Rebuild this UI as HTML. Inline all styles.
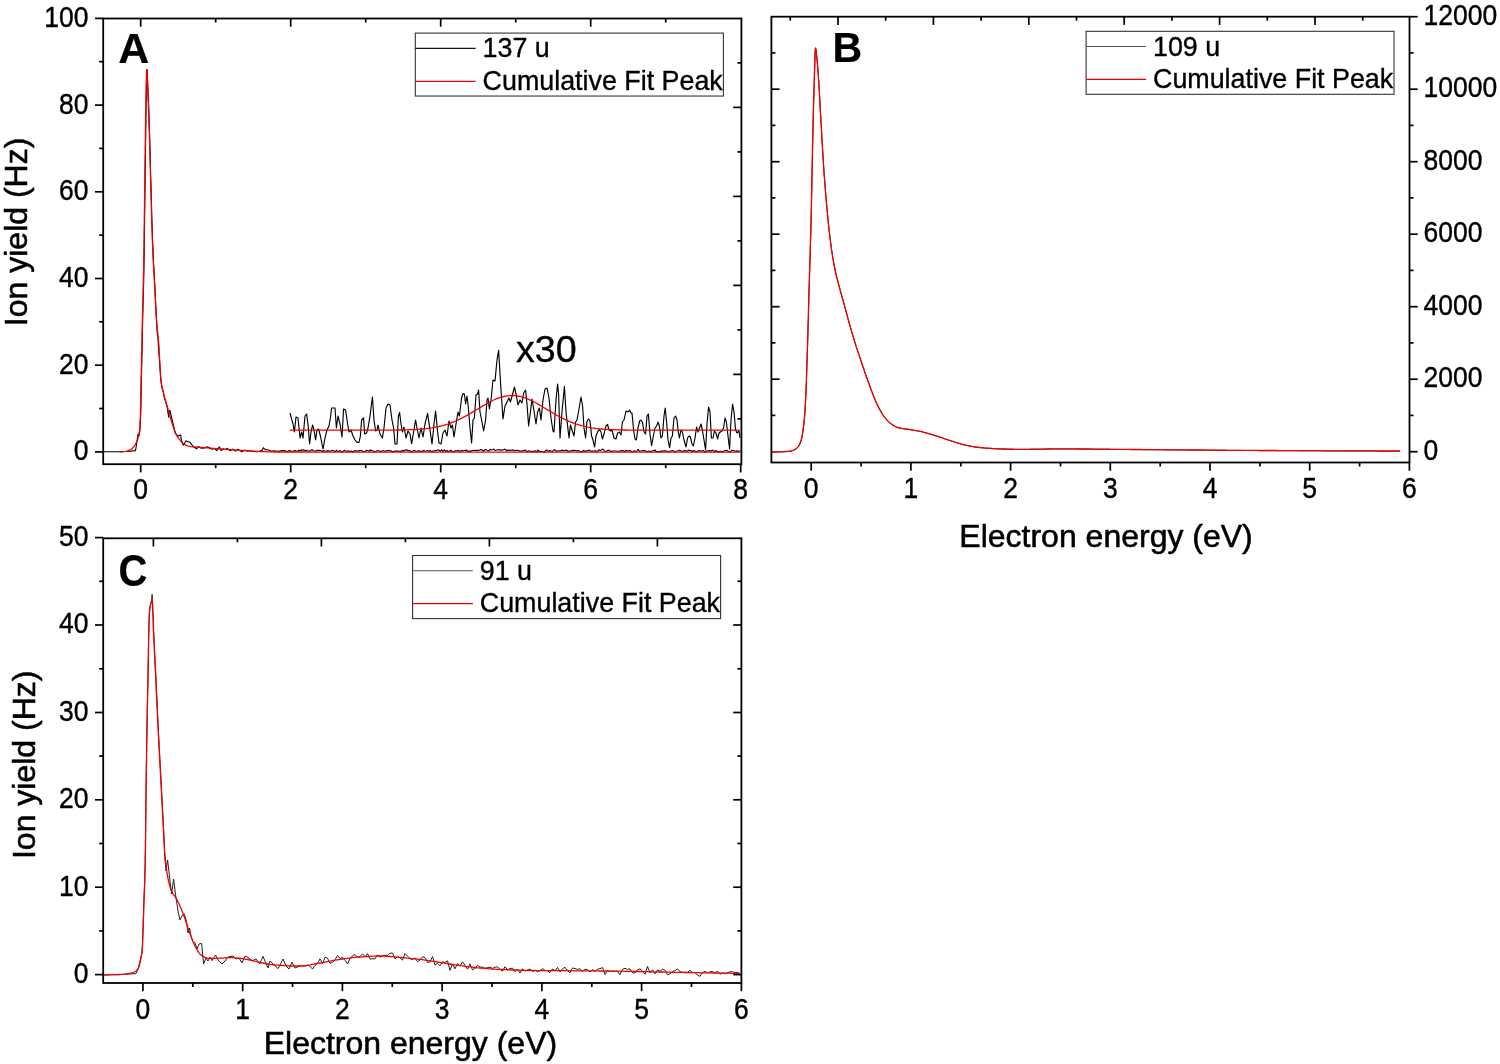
<!DOCTYPE html>
<html lang="en"><head><meta charset="utf-8"><title>Ion yield vs electron energy</title>
<style>
html,body{margin:0;padding:0;background:#fff;}
html,body{width:1500px;height:1064px;overflow:hidden;}
svg{display:block;font-family:'Liberation Sans', Arial, Helvetica, sans-serif;fill:#000;will-change:transform;}
text{stroke:#000;stroke-width:0.35px;stroke-linejoin:round;}
text.lab{stroke-width:0.55px;}
text.b{stroke-width:0.2px;}
</style></head>
<body>
<svg width="1500" height="1064" viewBox="0 0 1500 1064">
<rect x="0" y="0" width="1500" height="1064" fill="#fff"/>
<g id="panelA">
<path d="M103.4,451.7 L120.0,451.6 L130.0,451.2 L135.5,450.6 L136.6,444.0 L138.0,434.0 L139.0,435.7 L139.6,432.7 L139.9,429.7 L140.1,426.7 L140.3,423.7 L140.4,420.6 L140.6,417.6 L140.7,414.6 L140.8,411.5 L140.8,408.5 L140.9,405.4 L141.0,402.4 L141.0,399.4 L141.1,396.3 L141.2,393.3 L141.2,390.2 L141.3,387.2 L141.3,384.2 L141.4,381.1 L141.4,378.1 L141.5,375.0 L141.6,372.0 L141.6,369.0 L141.7,365.9 L141.8,362.9 L141.8,359.9 L141.9,356.8 L142.0,353.8 L142.0,350.7 L142.1,347.7 L142.2,344.7 L142.2,341.6 L142.3,338.6 L142.3,335.5 L142.4,332.5 L142.5,329.5 L142.5,326.4 L142.6,323.4 L142.7,320.4 L142.7,317.3 L142.8,314.3 L142.9,311.2 L143.0,308.2 L143.0,305.2 L143.1,302.1 L143.2,299.1 L143.3,296.0 L143.4,293.0 L143.4,290.0 L143.5,286.9 L143.6,283.9 L143.7,280.9 L143.7,277.8 L143.8,274.8 L143.9,271.7 L143.9,268.7 L144.0,265.7 L144.0,262.6 L144.1,259.6 L144.1,256.6 L144.2,253.5 L144.2,250.5 L144.3,247.4 L144.3,244.4 L144.3,241.4 L144.4,238.3 L144.4,235.3 L144.4,232.2 L144.5,229.2 L144.5,226.2 L144.6,223.1 L144.6,220.1 L144.6,217.0 L144.7,214.0 L144.7,211.0 L144.8,207.9 L144.8,204.9 L144.8,201.9 L144.9,198.8 L144.9,195.8 L144.9,192.7 L145.0,189.7 L145.0,186.7 L145.1,183.6 L145.1,180.6 L145.1,177.5 L145.2,174.5 L145.2,171.5 L145.3,168.4 L145.3,165.4 L145.3,162.3 L145.4,159.3 L145.4,156.3 L145.5,153.2 L145.5,150.2 L145.5,147.2 L145.6,144.1 L145.6,141.1 L145.7,138.0 L145.7,135.0 L145.7,132.0 L145.8,128.9 L145.8,125.9 L145.9,122.8 L145.9,119.8 L145.9,116.8 L146.0,113.7 L146.0,110.7 L146.1,107.6 L146.1,104.6 L146.2,101.6 L146.2,98.5 L146.3,95.5 L146.4,92.2 L146.4,88.5 L146.5,84.5 L146.6,80.4 L146.7,76.7 L146.7,73.5 L146.8,71.0 L146.9,69.6 L147.0,69.5 L147.2,70.7 L147.2,73.0 L147.4,76.1 L147.6,79.7 L147.7,83.7 L147.9,87.7 L148.1,91.6 L148.2,94.9 L148.3,98.0 L148.4,101.0 L148.6,104.0 L148.7,107.1 L148.8,110.1 L148.9,113.2 L149.0,116.2 L149.1,119.2 L149.2,122.3 L149.3,125.3 L149.4,128.3 L149.5,131.4 L149.6,134.4 L149.7,137.5 L149.8,140.5 L149.8,143.5 L149.9,146.6 L150.0,149.6 L150.1,152.6 L150.2,155.7 L150.2,158.7 L150.3,161.8 L150.4,164.8 L150.5,167.8 L150.6,170.9 L150.6,173.9 L150.7,176.9 L150.8,180.0 L150.9,183.0 L151.0,186.1 L151.1,189.1 L151.1,192.1 L151.2,195.2 L151.3,198.2 L151.4,201.3 L151.5,204.3 L151.6,207.3 L151.6,210.4 L151.7,213.4 L151.8,216.4 L151.9,219.5 L152.0,222.5 L152.1,225.6 L152.2,228.6 L152.3,231.6 L152.4,234.7 L152.5,237.7 L152.6,240.7 L152.7,243.8 L152.9,246.8 L153.0,249.9 L153.1,252.9 L153.2,255.9 L153.4,259.0 L153.5,262.0 L153.7,265.0 L153.9,268.1 L154.0,271.1 L154.2,274.1 L154.4,277.2 L154.5,280.2 L154.7,283.2 L154.9,286.3 L155.0,289.3 L155.2,292.3 L155.3,295.4 L155.5,298.4 L155.6,301.5 L155.7,304.5 L155.9,307.5 L156.1,310.6 L156.2,313.6 L156.4,316.6 L156.6,319.7 L157.2,333.0 L158.0,337.0 L158.3,345.0 L159.6,362.0 L160.6,378.0 L161.8,387.0 L163.2,392.0 L164.6,399.0 L165.8,402.0 L167.1,407.0 L168.7,417.3 L169.7,410.3 L170.0,410.7 L175.3,433.3 L178.0,436.0 L180.7,434.9 L181.3,440.0 L183.3,445.3 L186.0,440.7 L190.0,442.4 L193.3,446.7 L196.7,448.7 L198.7,446.7 L201.3,448.3 L204.7,448.0 L206.7,446.9 L208.7,447.3 L210.7,448.8 L212.7,449.3 L214.7,448.3 L216.7,450.7 L219.3,446.9 L221.3,450.7 L223.3,448.7 L225.3,449.6 L227.3,448.3 L230.0,450.7 L232.7,449.1 L235.3,451.1 L238.0,449.3 L240.0,450.7 L242.0,451.7 L244.7,450.0 L247.3,451.2 L250.0,450.7 L252.7,451.5 L256.7,451.7 L259.3,451.2 L262.0,450.4 L263.3,447.7 L265.3,449.6 L268.7,450.0 L271.3,451.3 L274.0,450.7 L276.7,451.2 L278.0,451.0 L279.3,451.2 L280.6,450.8 L281.9,450.5 L283.2,450.7 L284.5,450.4 L285.8,451.0 L287.1,451.8 L288.4,450.7 L289.7,450.6 L291.0,451.3 L292.3,451.2 L293.6,451.1 L294.9,450.4 L296.2,451.0 L297.5,451.4 L298.8,450.2 L300.1,450.7 L301.4,449.9 L302.7,450.2 L304.0,449.9 L305.3,450.9 L306.6,450.2 L307.9,451.2 L309.2,451.1 L310.5,450.9 L311.8,449.5 L313.1,450.7 L314.4,451.0 L315.7,451.1 L317.0,450.1 L318.3,450.7 L319.6,450.4 L320.9,450.5 L322.2,451.6 L323.5,450.5 L324.8,451.0 L326.1,451.5 L327.4,450.6 L328.7,450.9 L330.0,451.1 L331.3,451.0 L332.6,450.3 L333.9,451.0 L335.2,451.8 L336.5,450.1 L337.8,451.5 L339.1,451.1 L340.4,450.6 L341.7,452.2 L343.0,451.5 L344.3,450.3 L345.6,451.0 L346.9,451.3 L348.2,450.9 L349.5,451.4 L350.8,451.0 L352.1,451.4 L353.4,451.9 L354.7,450.6 L356.0,451.1 L357.3,450.7 L358.6,451.1 L359.9,450.3 L361.2,450.7 L362.5,450.9 L363.8,451.5 L365.1,451.7 L366.4,450.2 L367.7,450.5 L369.0,451.4 L370.3,449.8 L371.6,450.7 L372.9,450.9 L374.2,451.8 L375.5,451.4 L376.8,450.8 L378.1,450.8 L379.4,450.8 L380.7,451.9 L382.0,450.7 L383.3,450.8 L384.6,451.2 L385.9,450.9 L387.2,450.9 L388.5,450.3 L389.8,451.0 L391.1,450.7 L392.4,451.7 L393.7,451.4 L395.0,451.0 L396.3,451.4 L397.6,450.8 L398.9,451.6 L400.2,451.0 L401.5,451.4 L402.8,450.2 L404.1,451.2 L405.4,450.0 L406.7,449.8 L408.0,450.8 L409.3,450.5 L410.6,451.1 L411.9,452.3 L413.2,450.5 L414.5,450.6 L415.8,451.1 L417.1,451.3 L418.4,450.9 L419.7,450.9 L421.0,451.4 L422.3,451.3 L423.6,450.4 L424.9,451.0 L426.2,451.0 L427.5,450.4 L428.8,451.2 L430.1,450.5 L431.4,451.6 L432.7,451.1 L434.0,451.1 L435.3,450.6 L436.6,450.9 L437.9,449.8 L439.2,450.3 L440.5,451.2 L441.8,449.7 L443.1,451.5 L444.4,449.9 L445.7,451.5 L447.0,450.5 L448.3,451.5 L449.6,451.1 L450.9,450.1 L452.2,451.7 L453.5,451.8 L454.8,450.9 L456.1,450.8 L457.4,450.9 L458.7,450.4 L460.0,451.6 L461.3,450.6 L462.6,450.9 L463.9,450.4 L465.2,450.5 L466.5,450.1 L467.8,451.6 L469.1,450.7 L470.4,451.4 L471.7,450.8 L473.0,450.3 L474.3,450.5 L475.6,450.3 L476.9,450.6 L478.2,450.3 L479.5,450.3 L480.8,449.6 L482.1,449.9 L483.4,451.3 L484.7,449.9 L486.0,449.6 L487.3,450.4 L488.6,451.0 L489.9,449.3 L491.2,450.0 L492.5,449.7 L493.8,449.0 L495.1,450.5 L496.4,450.0 L497.7,450.0 L499.0,449.6 L500.3,450.3 L501.6,449.7 L502.9,450.0 L504.2,449.4 L505.5,449.4 L506.8,450.9 L508.1,449.9 L509.4,450.4 L510.7,450.3 L512.0,450.1 L513.3,450.1 L514.6,450.8 L515.9,450.3 L517.2,450.4 L518.5,450.6 L519.8,451.3 L521.1,451.1 L522.4,450.9 L523.7,450.4 L525.0,449.9 L526.3,451.4 L527.6,451.4 L528.9,450.8 L530.2,451.2 L531.5,451.4 L532.8,451.4 L534.1,451.5 L535.4,450.7 L536.7,451.9 L538.0,450.2 L539.3,451.5 L540.6,451.3 L541.9,451.5 L543.2,452.1 L544.5,451.9 L545.8,450.3 L547.1,450.0 L548.4,451.5 L549.7,450.4 L551.0,451.0 L552.3,451.5 L553.6,450.0 L554.9,449.7 L556.2,451.2 L557.5,451.0 L558.8,450.9 L560.1,451.0 L561.4,450.5 L562.7,450.1 L564.0,450.9 L565.3,450.4 L566.6,450.0 L567.9,451.3 L569.2,451.0 L570.5,451.2 L571.8,450.4 L573.1,450.6 L574.4,450.4 L575.7,450.5 L577.0,451.1 L578.3,450.5 L579.6,451.2 L580.9,451.2 L582.2,452.2 L583.5,450.2 L584.8,451.5 L586.1,450.9 L587.4,451.0 L588.7,450.1 L590.0,450.7 L591.3,451.4 L592.6,451.0 L593.9,451.0 L595.2,450.8 L596.5,451.7 L597.8,451.0 L599.1,449.7 L600.4,450.6 L601.7,449.8 L603.0,449.0 L604.3,450.7 L605.6,451.8 L606.9,451.0 L608.2,450.3 L609.5,450.4 L610.8,451.7 L612.1,451.1 L613.4,451.0 L614.7,451.0 L616.0,451.0 L617.3,451.5 L618.6,451.3 L619.9,451.1 L621.2,450.4 L622.5,451.3 L623.8,450.6 L625.1,451.7 L626.4,450.2 L627.7,450.9 L629.0,451.0 L630.3,450.2 L631.6,452.0 L632.9,451.9 L634.2,450.7 L635.5,451.5 L636.8,451.2 L638.1,449.4 L639.4,451.2 L640.7,451.0 L642.0,451.0 L643.3,450.4 L644.6,450.8 L645.9,450.9 L647.2,451.7 L648.5,451.2 L649.8,451.0 L651.1,451.9 L652.4,450.7 L653.7,450.8 L655.0,449.9 L656.3,451.9 L657.6,451.6 L658.9,451.6 L660.2,451.4 L661.5,451.1 L662.8,451.1 L664.1,450.8 L665.4,450.9 L666.7,451.0 L668.0,451.9 L669.3,451.3 L670.6,451.0 L671.9,450.7 L673.2,450.6 L674.5,452.0 L675.8,451.3 L677.1,451.0 L678.4,450.8 L679.7,450.3 L681.0,451.0 L682.3,451.5 L683.6,450.8 L684.9,450.9 L686.2,450.9 L687.5,451.1 L688.8,450.0 L690.1,450.9 L691.4,450.5 L692.7,451.5 L694.0,450.5 L695.3,451.3 L696.6,451.9 L697.9,450.8 L699.2,450.6 L700.5,451.1 L701.8,451.0 L703.1,450.4 L704.4,451.3 L705.7,452.2 L707.0,450.8 L708.3,450.9 L709.6,450.4 L710.9,451.2 L712.2,450.3 L713.5,450.3 L714.8,451.8 L716.1,450.5 L717.4,451.6 L718.7,451.9 L720.0,451.2 L721.3,451.3 L722.6,452.2 L723.9,450.9 L725.2,450.6 L726.5,450.2 L727.8,451.0 L729.1,451.9 L730.4,451.6 L731.7,450.4 L733.0,450.5 L734.3,450.7 L735.6,451.2 L736.9,450.9 L738.2,451.1 L739.5,451.2 L740.8,450.8" fill="none" stroke="#000" stroke-width="1.1" stroke-linejoin="round" />
<path d="M290.0,413.0 L293.0,424.0 L294.4,432.0 L296.0,417.0 L298.0,418.0 L300.0,438.0 L301.6,432.0 L303.0,438.0 L305.0,416.0 L306.6,414.0 L308.0,424.0 L309.6,444.0 L311.0,432.0 L312.6,425.0 L314.0,430.0 L315.6,440.0 L317.0,430.0 L318.6,429.0 L320.4,436.0 L323.0,449.0 L325.0,438.0 L327.0,430.0 L329.0,426.0 L330.4,418.0 L331.6,408.0 L335.0,408.0 L336.4,428.0 L338.0,416.0 L340.0,424.0 L342.0,437.0 L343.6,409.0 L345.6,410.0 L347.6,424.0 L349.0,432.0 L351.0,430.0 L353.0,436.0 L355.0,440.0 L357.0,442.4 L359.0,442.4 L360.4,436.0 L361.6,420.0 L363.6,418.0 L364.6,434.0 L366.6,433.0 L368.0,428.0 L370.0,416.0 L372.4,397.0 L374.0,420.0 L375.6,431.0 L377.0,430.0 L378.0,425.0 L380.0,434.0 L382.4,438.0 L384.0,428.0 L386.0,408.0 L388.0,404.0 L390.0,405.0 L392.0,420.0 L393.6,428.0 L395.0,444.0 L397.0,444.0 L398.4,416.0 L399.6,412.4 L401.0,424.0 L402.4,432.0 L404.0,427.0 L406.0,438.0 L408.0,431.0 L410.0,434.0 L411.6,443.6 L413.6,432.0 L415.6,420.0 L417.0,428.0 L419.0,438.0 L421.0,428.0 L423.0,437.0 L425.0,424.0 L427.6,413.4 L430.0,430.0 L432.0,444.0 L434.0,424.0 L435.6,411.0 L437.6,432.0 L439.0,443.0 L441.0,444.0 L443.0,433.0 L445.0,430.0 L447.0,436.0 L449.0,421.0 L451.0,428.0 L452.4,425.0 L454.0,437.0 L456.0,424.0 L458.0,412.0 L459.4,416.0 L461.6,398.0 L463.0,393.6 L464.4,394.0 L465.6,404.0 L467.0,396.0 L468.4,408.0 L470.0,428.0 L471.6,443.0 L473.0,420.0 L474.4,418.0 L476.0,395.0 L477.6,394.0 L478.6,390.0 L480.0,412.0 L481.6,420.0 L483.6,431.0 L485.6,420.0 L487.0,400.0 L488.0,398.0 L489.4,409.0 L491.0,400.0 L493.0,380.0 L495.0,381.0 L497.0,360.0 L498.6,350.4 L501.0,390.0 L503.0,419.0 L505.0,406.0 L507.0,402.0 L509.0,398.0 L510.4,402.0 L512.4,395.0 L514.4,387.0 L516.0,394.0 L518.0,405.0 L520.0,400.0 L522.0,403.0 L523.6,393.0 L525.6,390.0 L527.0,404.0 L528.6,426.0 L530.4,412.0 L532.0,399.0 L534.0,411.0 L536.0,424.0 L537.6,412.0 L539.4,408.0 L541.0,420.0 L543.0,400.0 L545.0,389.0 L547.0,388.0 L549.0,398.0 L551.0,418.0 L553.0,431.0 L554.0,432.0 L556.0,400.0 L557.6,384.0 L558.6,394.0 L560.0,438.0 L562.0,412.0 L564.4,386.4 L566.0,412.0 L569.0,438.0 L570.4,425.0 L572.0,430.0 L574.0,436.0 L575.6,422.0 L577.0,420.0 L579.0,409.0 L581.0,397.0 L582.6,406.0 L584.0,428.0 L585.6,438.0 L587.0,421.0 L588.6,419.0 L590.0,421.0 L591.6,436.0 L593.0,440.0 L594.6,447.0 L596.0,436.0 L598.0,431.0 L599.4,429.6 L601.0,432.0 L602.4,439.0 L604.0,434.0 L606.0,426.0 L607.6,424.4 L609.0,430.0 L610.6,431.0 L612.0,430.0 L614.0,438.0 L616.0,439.0 L617.6,433.0 L619.4,432.0 L621.0,435.0 L622.4,422.0 L624.0,420.0 L626.0,411.0 L628.0,412.0 L629.6,410.0 L631.0,413.0 L632.0,413.0 L633.6,430.0 L635.0,439.0 L636.4,440.0 L638.0,428.0 L639.6,421.0 L641.0,420.0 L642.4,422.0 L644.0,432.0 L645.6,434.0 L647.0,416.0 L648.4,414.0 L650.0,434.0 L651.6,445.6 L653.0,438.0 L655.0,428.0 L656.6,426.0 L658.0,422.0 L659.4,426.0 L661.0,438.0 L662.4,436.0 L664.0,416.0 L665.2,408.0 L666.6,422.0 L668.0,440.0 L669.6,447.6 L671.0,438.0 L672.4,436.0 L674.0,418.0 L675.6,416.0 L677.0,420.0 L678.0,430.0 L679.4,438.0 L681.0,430.0 L682.4,432.0 L684.0,440.0 L686.0,447.0 L687.6,438.0 L689.0,436.0 L690.4,437.0 L692.0,444.0 L693.4,446.0 L695.0,438.0 L696.6,427.0 L698.0,432.0 L699.6,428.0 L701.0,424.0 L702.4,430.0 L704.0,440.0 L705.6,450.0 L707.0,424.0 L708.6,407.0 L710.0,412.0 L711.4,438.0 L713.0,438.0 L714.4,431.0 L716.0,433.0 L717.6,439.0 L719.0,433.0 L720.4,432.0 L722.0,431.0 L723.6,428.0 L725.0,418.0 L726.4,422.0 L728.0,436.0 L729.6,449.0 L731.0,420.0 L732.6,404.0 L734.0,412.0 L735.6,430.0 L737.0,433.0 L739.0,431.0 L740.0,438.0" fill="none" stroke="#000" stroke-width="1.15" stroke-linejoin="round" />
<path d="M120.0,451.9 L123.1,451.7 L126.0,451.3 L129.0,450.4 L131.6,449.0 L133.8,446.7 L135.5,444.3 L136.9,441.5 L137.9,438.7 L138.7,435.7 L139.3,432.7 L139.6,429.7 L139.8,426.7 L140.0,423.7 L140.1,420.6 L140.3,417.6 L140.4,414.6 L140.5,411.5 L140.5,408.5 L140.6,405.4 L140.7,402.4 L140.7,399.4 L140.8,396.3 L140.9,393.3 L140.9,390.2 L141.0,387.2 L141.0,384.2 L141.1,381.1 L141.1,378.1 L141.2,375.0 L141.3,372.0 L141.3,369.0 L141.4,365.9 L141.5,362.9 L141.5,359.9 L141.6,356.8 L141.7,353.8 L141.7,350.7 L141.8,347.7 L141.9,344.7 L141.9,341.6 L142.0,338.6 L142.0,335.5 L142.1,332.5 L142.2,329.5 L142.2,326.4 L142.3,323.4 L142.4,320.4 L142.4,317.3 L142.5,314.3 L142.6,311.2 L142.7,308.2 L142.7,305.2 L142.8,302.1 L142.9,299.1 L143.0,296.0 L143.1,293.0 L143.1,290.0 L143.2,286.9 L143.3,283.9 L143.4,280.9 L143.4,277.8 L143.5,274.8 L143.6,271.7 L143.6,268.7 L143.7,265.7 L143.7,262.6 L143.8,259.6 L143.8,256.6 L143.9,253.5 L143.9,250.5 L144.0,247.4 L144.0,244.4 L144.0,241.4 L144.1,238.3 L144.1,235.3 L144.1,232.2 L144.2,229.2 L144.2,226.2 L144.3,223.1 L144.3,220.1 L144.3,217.0 L144.4,214.0 L144.4,211.0 L144.5,207.9 L144.5,204.9 L144.5,201.9 L144.6,198.8 L144.6,195.8 L144.6,192.7 L144.7,189.7 L144.7,186.7 L144.8,183.6 L144.8,180.6 L144.8,177.5 L144.9,174.5 L144.9,171.5 L145.0,168.4 L145.0,165.4 L145.0,162.3 L145.1,159.3 L145.1,156.3 L145.2,153.2 L145.2,150.2 L145.2,147.2 L145.3,144.1 L145.3,141.1 L145.4,138.0 L145.4,135.0 L145.4,132.0 L145.5,128.9 L145.5,125.9 L145.6,122.8 L145.6,119.8 L145.6,116.8 L145.7,113.7 L145.7,110.7 L145.8,107.6 L145.8,104.6 L145.9,101.6 L145.9,98.5 L146.0,95.5 L146.1,92.2 L146.1,88.5 L146.2,84.5 L146.3,80.4 L146.4,76.7 L146.4,73.5 L146.5,71.0 L146.6,69.6 L146.7,69.5 L146.9,70.7 L147.0,73.0 L147.2,76.1 L147.4,79.7 L147.5,83.7 L147.7,87.7 L147.9,91.6 L148.0,94.9 L148.1,98.0 L148.2,101.0 L148.4,104.0 L148.5,107.1 L148.6,110.1 L148.7,113.2 L148.8,116.2 L148.9,119.2 L149.0,122.3 L149.1,125.3 L149.2,128.3 L149.3,131.4 L149.4,134.4 L149.5,137.5 L149.6,140.5 L149.6,143.5 L149.7,146.6 L149.8,149.6 L149.9,152.6 L150.0,155.7 L150.0,158.7 L150.1,161.8 L150.2,164.8 L150.3,167.8 L150.4,170.9 L150.4,173.9 L150.5,176.9 L150.6,180.0 L150.7,183.0 L150.8,186.1 L150.9,189.1 L150.9,192.1 L151.0,195.2 L151.1,198.2 L151.2,201.3 L151.3,204.3 L151.4,207.3 L151.4,210.4 L151.5,213.4 L151.6,216.4 L151.7,219.5 L151.8,222.5 L151.9,225.6 L152.0,228.6 L152.1,231.6 L152.2,234.7 L152.3,237.7 L152.4,240.7 L152.5,243.8 L152.7,246.8 L152.8,249.9 L152.9,252.9 L153.0,255.9 L153.2,259.0 L153.3,262.0 L153.5,265.0 L153.7,268.1 L153.8,271.1 L154.0,274.1 L154.2,277.2 L154.3,280.2 L154.5,283.2 L154.7,286.3 L154.8,289.3 L155.0,292.3 L155.1,295.4 L155.3,298.4 L155.4,301.5 L155.5,304.5 L155.7,307.5 L155.9,310.6 L156.0,313.6 L156.2,316.6 L156.4,319.7 L156.6,322.7 L156.9,325.7 L157.2,328.7 L157.6,331.8 L157.9,334.8 L158.2,337.8 L158.5,340.8 L158.8,343.9 L159.0,346.9 L159.1,349.9 L159.3,353.0 L159.5,356.0 L159.6,359.0 L159.8,362.1 L160.0,365.1 L160.2,368.1 L160.4,371.2 L160.5,374.2 L160.8,377.2 L161.0,380.3 L161.4,383.3 L161.9,386.2 L162.6,389.2 L163.3,392.2 L164.1,395.1 L164.8,398.1 L165.6,401.0 L166.5,403.9 L167.4,406.8 L168.2,409.8 L169.0,412.7 L169.8,415.6 L170.7,418.5 L171.5,421.5 L172.4,424.4 L173.4,427.3 L174.4,430.2 L175.5,433.0 L176.9,435.6 L178.5,438.2 L180.4,440.6 L182.4,443.0 L184.8,444.7 L187.6,445.9 L190.6,446.6 L193.6,446.9 L196.7,447.0 L197.8,447.1 L198.9,447.2 L200.0,447.3 L201.1,447.4 L202.2,447.5 L203.3,447.5 L204.4,447.6 L205.5,447.7 L206.6,447.8 L207.7,447.9 L208.8,448.0 L209.9,448.1 L211.0,448.2 L212.1,448.3 L213.2,448.4 L214.3,448.5 L215.4,448.6 L216.5,448.7 L217.6,448.7 L218.7,448.8 L219.8,448.9 L220.9,449.0 L222.0,449.1 L223.1,449.2 L224.2,449.3 L225.3,449.3 L226.4,449.4 L227.5,449.5 L228.6,449.6 L229.7,449.6 L230.8,449.7 L231.9,449.8 L233.0,449.9 L234.1,449.9 L235.2,450.0 L236.3,450.1 L237.4,450.1 L238.5,450.2 L239.6,450.3 L240.7,450.4 L241.8,450.4 L242.9,450.5 L244.0,450.6 L245.1,450.6 L246.2,450.7 L247.3,450.7 L248.4,450.8 L249.5,450.9 L250.6,450.9 L251.7,451.0 L252.8,451.1 L253.9,451.1 L255.0,451.2 L256.1,451.2 L257.2,451.3 L258.3,451.4 L259.4,451.4 L260.5,451.5 L261.6,451.5 L262.7,451.6 L263.8,451.6 L264.9,451.7 L266.0,451.7 L267.1,451.8 L268.2,451.8 L269.3,451.8 L270.4,451.9 L271.5,451.9 L272.6,451.9 L273.7,452.0 L274.8,452.0 L275.9,452.0 L277.0,452.0 L278.1,452.0 L279.2,452.0 L280.3,452.0 L281.4,452.0 L282.5,452.0 L283.6,452.0 L284.7,452.0 L285.8,452.0 L286.9,452.0 L288.0,452.0 L289.1,452.0 L290.2,452.0 L291.3,452.0 L292.4,452.0 L293.5,452.0 L294.6,452.0 L295.7,452.0 L296.8,452.0 L297.9,452.0 L299.0,452.0 L300.1,452.0 L301.2,452.0 L302.3,452.0 L303.4,452.0 L304.5,452.0 L305.6,452.0 L306.7,452.1 L307.8,452.1 L308.9,452.1 L310.0,452.1 L311.1,452.1 L312.2,452.1 L313.3,452.1 L314.4,452.1 L315.5,452.1 L316.6,452.1 L317.7,452.1 L318.8,452.1 L319.9,452.1 L321.0,452.1 L322.1,452.1 L323.2,452.1 L324.3,452.1 L325.4,452.1 L326.5,452.1 L327.6,452.1 L328.7,452.1 L329.8,452.1 L330.9,452.1 L332.0,452.1 L333.1,452.1 L334.2,452.1 L335.3,452.1 L336.4,452.1 L337.5,452.1 L338.6,452.1 L339.7,452.1 L340.8,452.1 L341.9,452.1 L343.0,452.1 L344.1,452.1 L345.2,452.1 L346.3,452.1 L347.4,452.1 L348.5,452.1 L349.6,452.1 L350.7,452.1 L351.8,452.1 L352.9,452.1 L354.0,452.1 L355.1,452.1 L356.2,452.1 L357.3,452.1 L358.4,452.1 L359.5,452.1 L360.6,452.1 L361.7,452.1 L362.8,452.1 L363.9,452.1 L365.0,452.1 L366.1,452.1 L367.2,452.1 L368.3,452.1 L369.4,452.1 L370.5,452.1 L371.6,452.1 L372.7,452.1 L373.8,452.1 L374.9,452.1 L376.0,452.1 L377.1,452.1 L378.2,452.1 L379.3,452.1 L380.4,452.1 L381.5,452.1 L382.6,452.1 L383.7,452.1 L384.8,452.1 L385.9,452.1 L387.0,452.1 L388.1,452.1 L389.2,452.1 L390.3,452.1 L391.4,452.1 L392.5,452.1 L393.6,452.1 L394.7,452.1 L395.8,452.1 L396.9,452.1 L398.0,452.1 L399.1,452.1 L400.2,452.1 L401.3,452.1 L402.4,452.1 L403.5,452.1 L404.6,452.1 L405.7,452.1 L406.8,452.1 L407.9,452.1 L409.0,452.1 L410.1,452.1 L411.2,452.1 L412.3,452.1 L413.4,452.1 L414.5,452.1 L415.6,452.1 L416.7,452.1 L417.8,452.1 L418.9,452.1 L420.0,452.1 L421.1,452.1 L422.2,452.1 L423.3,452.1 L424.4,452.1 L425.5,452.1 L426.6,452.1 L427.7,452.1 L428.8,452.1 L429.9,452.1 L431.0,452.1 L432.1,452.1 L433.2,452.1 L434.3,452.1 L435.4,452.1 L436.5,452.1 L437.6,452.1 L438.7,452.1 L439.8,452.1 L440.9,452.1 L442.0,452.1 L443.1,452.1 L444.2,452.1 L445.3,452.1 L446.4,452.1 L447.5,452.1 L448.6,452.1 L449.7,452.1 L450.8,452.1 L451.9,452.1 L453.0,452.1 L454.1,452.1 L455.2,452.1 L456.3,452.1 L457.4,452.1 L458.5,452.1 L459.6,452.1 L460.7,452.1 L461.8,452.1 L462.9,452.1 L464.0,452.1 L465.1,452.1 L466.2,452.1 L467.3,452.1 L468.4,452.1 L469.5,452.1 L470.6,452.1 L471.7,452.1 L472.8,452.1 L473.9,452.1 L475.0,452.1 L476.1,452.1 L477.2,452.1 L478.3,452.1 L479.4,452.1 L480.5,452.1 L481.6,452.1 L482.7,452.1 L483.8,452.1 L484.9,452.1 L486.0,452.1 L487.1,452.1 L488.2,452.1 L489.3,452.1 L490.4,452.1 L491.5,452.1 L492.6,452.1 L493.7,452.1 L494.8,452.1 L495.9,452.1 L497.0,452.1 L498.1,452.1 L499.2,452.1 L500.3,452.1 L501.4,452.1 L502.5,452.1 L503.6,452.1 L504.7,452.1 L505.8,452.1 L506.9,452.1 L508.0,452.1 L509.1,452.1 L510.2,452.1 L511.3,452.1 L512.4,452.1 L513.5,452.1 L514.6,452.1 L515.7,452.1 L516.8,452.1 L517.9,452.1 L519.0,452.1 L520.1,452.1 L521.2,452.1 L522.3,452.1 L523.4,452.1 L524.5,452.1 L525.6,452.1 L526.7,452.1 L527.8,452.1 L528.9,452.1 L530.0,452.1 L531.1,452.1 L532.2,452.1 L533.3,452.1 L534.4,452.1 L535.5,452.1 L536.6,452.1 L537.7,452.1 L538.8,452.1 L539.9,452.1 L541.0,452.1 L542.1,452.1 L543.2,452.1 L544.3,452.1 L545.4,452.1 L546.5,452.1 L547.6,452.1 L548.7,452.1 L549.8,452.1 L550.9,452.1 L552.0,452.1 L553.1,452.1 L554.2,452.1 L555.3,452.1 L556.4,452.1 L557.5,452.1 L558.6,452.1 L559.7,452.1 L560.8,452.1 L561.9,452.1 L563.0,452.1 L564.1,452.1 L565.2,452.1 L566.3,452.1 L567.4,452.1 L568.5,452.1 L569.6,452.1 L570.7,452.1 L571.8,452.1 L572.9,452.1 L574.0,452.1 L575.1,452.1 L576.2,452.1 L577.3,452.1 L578.4,452.1 L579.5,452.1 L580.6,452.1 L581.7,452.1 L582.8,452.1 L583.9,452.1 L585.0,452.1 L586.1,452.1 L587.2,452.1 L588.3,452.1 L589.4,452.1 L590.5,452.1 L591.6,452.1 L592.7,452.1 L593.8,452.1 L594.9,452.1 L596.0,452.1 L597.1,452.1 L598.2,452.1 L599.3,452.1 L600.4,452.1 L601.5,452.1 L602.6,452.1 L603.7,452.1 L604.8,452.1 L605.9,452.1 L607.0,452.1 L608.1,452.1 L609.2,452.1 L610.3,452.1 L611.4,452.1 L612.5,452.1 L613.6,452.1 L614.7,452.1 L615.8,452.1 L616.9,452.1 L618.0,452.1 L619.1,452.1 L620.2,452.1 L621.3,452.1 L622.4,452.1 L623.5,452.1 L624.6,452.1 L625.7,452.1 L626.8,452.1 L627.9,452.1 L629.0,452.1 L630.1,452.1 L631.2,452.1 L632.3,452.1 L633.4,452.1 L634.5,452.1 L635.6,452.1 L636.7,452.1 L637.8,452.1 L638.9,452.1 L640.0,452.1 L641.1,452.1 L642.2,452.1 L643.3,452.1 L644.4,452.1 L645.5,452.1 L646.6,452.1 L647.7,452.1 L648.8,452.1 L649.9,452.1 L651.0,452.1 L652.1,452.1 L653.2,452.1 L654.3,452.1 L655.4,452.1 L656.5,452.1 L657.6,452.1 L658.7,452.1 L659.8,452.1 L660.9,452.1 L662.0,452.1 L663.1,452.1 L664.2,452.1 L665.3,452.1 L666.4,452.1 L667.5,452.1 L668.6,452.1 L669.7,452.1 L670.8,452.1 L671.9,452.1 L673.0,452.1 L674.1,452.1 L675.2,452.1 L676.3,452.1 L677.4,452.1 L678.5,452.1 L679.6,452.1 L680.7,452.1 L681.8,452.1 L682.9,452.1 L684.0,452.1 L685.1,452.1 L686.2,452.1 L687.3,452.1 L688.4,452.1 L689.5,452.1 L690.6,452.1 L691.7,452.1 L692.8,452.1 L693.9,452.1 L695.0,452.1 L696.1,452.1 L697.2,452.1 L698.3,452.1 L699.4,452.1 L700.5,452.1 L701.6,452.1 L702.7,452.1 L703.8,452.1 L704.9,452.1 L706.0,452.1 L707.1,452.1 L708.2,452.1 L709.3,452.1 L710.4,452.1 L711.5,452.1 L712.6,452.1 L713.7,452.1 L714.8,452.1 L715.9,452.1 L717.0,452.1 L718.1,452.1 L719.2,452.1 L720.3,452.1 L721.4,452.1 L722.5,452.1 L723.6,452.1 L724.7,452.1 L725.8,452.1 L726.9,452.1 L728.0,452.1 L729.1,452.1 L730.2,452.1 L731.3,452.1 L732.4,452.1 L733.5,452.1 L734.6,452.1 L735.7,452.1 L736.8,452.1 L737.9,452.1 L739.0,452.1 L740.1,452.1" fill="none" stroke="#f00000" stroke-width="1.3" stroke-linejoin="round" />
<path d="M289.7,430.2 L291.7,430.2 L293.7,430.2 L295.7,430.2 L297.7,430.2 L299.7,430.2 L301.7,430.2 L303.7,430.2 L305.7,430.2 L307.7,430.2 L309.7,430.2 L311.7,430.2 L313.7,430.2 L315.7,430.2 L317.7,430.2 L319.7,430.2 L321.7,430.2 L323.7,430.2 L325.7,430.2 L327.7,430.2 L329.7,430.2 L331.7,430.2 L333.7,430.2 L335.7,430.2 L337.7,430.2 L339.7,430.2 L341.7,430.2 L343.7,430.2 L345.7,430.2 L347.7,430.2 L349.7,430.2 L351.7,430.2 L353.7,430.2 L355.7,430.2 L357.7,430.2 L359.7,430.2 L361.7,430.2 L363.7,430.2 L365.7,430.2 L367.7,430.2 L369.7,430.2 L371.7,430.2 L373.7,430.2 L375.7,430.2 L377.7,430.2 L379.7,430.2 L381.7,430.1 L383.7,430.1 L385.7,430.1 L387.7,430.1 L389.7,430.1 L391.7,430.1 L393.7,430.1 L395.7,430.1 L397.7,430.0 L399.7,430.0 L401.7,430.0 L403.7,429.9 L405.7,429.9 L407.7,429.8 L409.7,429.7 L411.7,429.7 L413.7,429.6 L415.7,429.5 L417.7,429.3 L419.7,429.2 L421.7,429.0 L423.7,428.9 L425.7,428.7 L427.7,428.4 L429.7,428.2 L431.7,427.9 L433.7,427.5 L435.7,427.2 L437.7,426.8 L439.7,426.3 L441.7,425.8 L443.7,425.3 L445.7,424.7 L447.7,424.1 L449.7,423.4 L451.7,422.6 L453.7,421.8 L455.7,421.0 L457.7,420.1 L459.7,419.2 L461.7,418.2 L463.7,417.1 L465.7,416.1 L467.7,414.9 L469.7,413.8 L471.7,412.6 L473.7,411.4 L475.7,410.2 L477.7,409.0 L479.7,407.8 L481.7,406.6 L483.7,405.4 L485.7,404.2 L487.7,403.1 L489.7,402.0 L491.7,401.0 L493.7,400.0 L495.7,399.1 L497.7,398.3 L499.7,397.6 L501.7,397.0 L503.7,396.5 L505.7,396.1 L507.7,395.8 L509.7,395.6 L511.7,395.5 L513.7,395.5 L515.7,395.7 L517.7,396.0 L519.7,396.4 L521.7,396.9 L523.7,397.4 L525.7,398.1 L527.7,398.9 L529.7,399.8 L531.7,400.7 L533.7,401.7 L535.7,402.8 L537.7,403.9 L539.7,405.1 L541.7,406.3 L543.7,407.5 L545.7,408.7 L547.7,409.9 L549.7,411.1 L551.7,412.3 L553.7,413.5 L555.7,414.7 L557.7,415.8 L559.7,416.9 L561.7,417.9 L563.7,418.9 L565.7,419.9 L567.7,420.8 L569.7,421.6 L571.7,422.4 L573.7,423.2 L575.7,423.9 L577.7,424.5 L579.7,425.1 L581.7,425.7 L583.7,426.2 L585.7,426.6 L587.7,427.1 L589.7,427.4 L591.7,427.8 L593.7,428.1 L595.7,428.4 L597.7,428.6 L599.7,428.8 L601.7,429.0 L603.7,429.2 L605.7,429.3 L607.7,429.4 L609.7,429.5 L611.7,429.6 L613.7,429.7 L615.7,429.8 L617.7,429.9 L619.7,429.9 L621.7,430.0 L623.7,430.0 L625.7,430.0 L627.7,430.1 L629.7,430.1 L631.7,430.1 L633.7,430.1 L635.7,430.1 L637.7,430.1 L639.7,430.1 L641.7,430.1 L643.7,430.2 L645.7,430.2 L647.7,430.2 L649.7,430.2 L651.7,430.2 L653.7,430.2 L655.7,430.2 L657.7,430.2 L659.7,430.2 L661.7,430.2 L663.7,430.2 L665.7,430.2 L667.7,430.2 L669.7,430.2 L671.7,430.2 L673.7,430.2 L675.7,430.2 L677.7,430.2 L679.7,430.2 L681.7,430.2 L683.7,430.2 L685.7,430.2 L687.7,430.2 L689.7,430.2 L691.7,430.2 L693.7,430.2 L695.7,430.2 L697.7,430.2 L699.7,430.2 L701.7,430.2 L703.7,430.2 L705.7,430.2 L707.7,430.2 L709.7,430.2 L711.7,430.2 L713.7,430.2 L715.7,430.2 L717.7,430.2 L719.7,430.2 L721.7,430.2 L723.7,430.2 L725.7,430.2 L727.7,430.2 L729.7,430.2 L731.7,430.2 L733.7,430.2 L735.7,430.2 L737.7,430.2 L739.7,430.2" fill="none" stroke="#f00000" stroke-width="1.3" stroke-linejoin="round" />
<rect x="103.2" y="18.5" width="638.1999999999999" height="445.7" fill="none" stroke="#000" stroke-width="1.8"/>
<line x1="140.7" y1="464.2" x2="140.7" y2="472.4" stroke="#000" stroke-width="1.7"/>
<line x1="140.7" y1="18.5" x2="140.7" y2="26.7" stroke="#000" stroke-width="1.7"/>
<text transform="translate(140.7,498.9) scale(1,1.09)" font-size="26.5" text-anchor="middle" font-weight="normal" >0</text>
<line x1="215.7" y1="464.2" x2="215.7" y2="468.2" stroke="#000" stroke-width="1.7"/>
<line x1="215.7" y1="18.5" x2="215.7" y2="22.5" stroke="#000" stroke-width="1.7"/>
<line x1="290.7" y1="464.2" x2="290.7" y2="472.4" stroke="#000" stroke-width="1.7"/>
<line x1="290.7" y1="18.5" x2="290.7" y2="26.7" stroke="#000" stroke-width="1.7"/>
<text transform="translate(290.7,498.9) scale(1,1.09)" font-size="26.5" text-anchor="middle" font-weight="normal" >2</text>
<line x1="365.7" y1="464.2" x2="365.7" y2="468.2" stroke="#000" stroke-width="1.7"/>
<line x1="365.7" y1="18.5" x2="365.7" y2="22.5" stroke="#000" stroke-width="1.7"/>
<line x1="440.7" y1="464.2" x2="440.7" y2="472.4" stroke="#000" stroke-width="1.7"/>
<line x1="440.7" y1="18.5" x2="440.7" y2="26.7" stroke="#000" stroke-width="1.7"/>
<text transform="translate(440.7,498.9) scale(1,1.09)" font-size="26.5" text-anchor="middle" font-weight="normal" >4</text>
<line x1="515.7" y1="464.2" x2="515.7" y2="468.2" stroke="#000" stroke-width="1.7"/>
<line x1="515.7" y1="18.5" x2="515.7" y2="22.5" stroke="#000" stroke-width="1.7"/>
<line x1="590.7" y1="464.2" x2="590.7" y2="472.4" stroke="#000" stroke-width="1.7"/>
<line x1="590.7" y1="18.5" x2="590.7" y2="26.7" stroke="#000" stroke-width="1.7"/>
<text transform="translate(590.7,498.9) scale(1,1.09)" font-size="26.5" text-anchor="middle" font-weight="normal" >6</text>
<line x1="665.7" y1="464.2" x2="665.7" y2="468.2" stroke="#000" stroke-width="1.7"/>
<line x1="665.7" y1="18.5" x2="665.7" y2="22.5" stroke="#000" stroke-width="1.7"/>
<line x1="740.7" y1="464.2" x2="740.7" y2="472.4" stroke="#000" stroke-width="1.7"/>
<text transform="translate(740.7,498.9) scale(1,1.09)" font-size="26.5" text-anchor="middle" font-weight="normal" >8</text>
<line x1="95.0" y1="451.9" x2="103.2" y2="451.9" stroke="#000" stroke-width="1.7"/>
<text transform="translate(88.5,460.2) scale(1,1.09)" font-size="26.5" text-anchor="end" font-weight="normal" >0</text>
<line x1="99.2" y1="408.5" x2="103.2" y2="408.5" stroke="#000" stroke-width="1.7"/>
<line x1="95.0" y1="365.2" x2="103.2" y2="365.2" stroke="#000" stroke-width="1.7"/>
<text transform="translate(88.5,373.6) scale(1,1.09)" font-size="26.5" text-anchor="end" font-weight="normal" >20</text>
<line x1="99.2" y1="321.8" x2="103.2" y2="321.8" stroke="#000" stroke-width="1.7"/>
<line x1="95.0" y1="278.5" x2="103.2" y2="278.5" stroke="#000" stroke-width="1.7"/>
<text transform="translate(88.5,286.9) scale(1,1.09)" font-size="26.5" text-anchor="end" font-weight="normal" >40</text>
<line x1="99.2" y1="235.1" x2="103.2" y2="235.1" stroke="#000" stroke-width="1.7"/>
<line x1="95.0" y1="191.8" x2="103.2" y2="191.8" stroke="#000" stroke-width="1.7"/>
<text transform="translate(88.5,200.2) scale(1,1.09)" font-size="26.5" text-anchor="end" font-weight="normal" >60</text>
<line x1="99.2" y1="148.4" x2="103.2" y2="148.4" stroke="#000" stroke-width="1.7"/>
<line x1="95.0" y1="105.1" x2="103.2" y2="105.1" stroke="#000" stroke-width="1.7"/>
<text transform="translate(88.5,113.5) scale(1,1.09)" font-size="26.5" text-anchor="end" font-weight="normal" >80</text>
<line x1="99.2" y1="61.7" x2="103.2" y2="61.7" stroke="#000" stroke-width="1.7"/>
<line x1="95.0" y1="18.4" x2="103.2" y2="18.4" stroke="#000" stroke-width="1.7"/>
<text transform="translate(88.5,26.8) scale(1,1.09)" font-size="26.5" text-anchor="end" font-weight="normal" >100</text>
<line x1="737.4" y1="418.9" x2="741.4" y2="418.9" stroke="#000" stroke-width="1.7"/>
<line x1="733.2" y1="374.4" x2="741.4" y2="374.4" stroke="#000" stroke-width="1.7"/>
<line x1="737.4" y1="329.9" x2="741.4" y2="329.9" stroke="#000" stroke-width="1.7"/>
<line x1="733.2" y1="285.4" x2="741.4" y2="285.4" stroke="#000" stroke-width="1.7"/>
<line x1="737.4" y1="240.9" x2="741.4" y2="240.9" stroke="#000" stroke-width="1.7"/>
<line x1="733.2" y1="196.4" x2="741.4" y2="196.4" stroke="#000" stroke-width="1.7"/>
<line x1="737.4" y1="151.9" x2="741.4" y2="151.9" stroke="#000" stroke-width="1.7"/>
<line x1="733.2" y1="107.4" x2="741.4" y2="107.4" stroke="#000" stroke-width="1.7"/>
<line x1="737.4" y1="62.9" x2="741.4" y2="62.9" stroke="#000" stroke-width="1.7"/>
<rect x="415.3" y="33.1" width="308.1" height="62.95" fill="#fff" stroke="#333" stroke-width="1.1"/>
<line x1="415.3" y1="48.3" x2="475.6" y2="48.3" stroke="#111" stroke-width="1.2"/>
<line x1="415.3" y1="81.3" x2="475.6" y2="81.3" stroke="#f00000" stroke-width="1.2"/>
<text x="482.6" y="57.3" font-size="26.85" text-anchor="start" font-weight="normal" >137 u</text>
<text x="482.6" y="89.8" font-size="26.85" text-anchor="start" font-weight="normal" >Cumulative Fit Peak</text>
<text transform="translate(118.2,62.9) scale(1,0.97)" font-size="43" font-weight="bold" class="b">A</text>
<text x="516.0" y="362.4" font-size="37.6" text-anchor="start" font-weight="normal" >x30</text>
<text transform="translate(26.9,231.9) rotate(-90)" font-size="32.0" text-anchor="middle" class="lab">Ion yield (Hz)</text>
</g>
<g id="panelB">
<path d="M771.5,452.1 L774.5,452.1 L777.5,452.0 L780.3,451.9 L783.1,451.8 L785.9,451.6 L788.6,451.4 L791.3,451.1 L794.1,450.1 L796.6,448.5 L798.4,446.7 L799.8,444.2 L800.9,441.4 L801.7,438.7 L802.3,436.0 L802.7,433.2 L803.1,430.3 L803.5,427.5 L803.8,424.7 L804.1,421.9 L804.4,419.1 L804.7,416.3 L804.9,413.4 L805.1,410.6 L805.3,407.8 L805.4,405.0 L805.6,402.2 L805.7,399.3 L805.9,396.5 L806.0,393.7 L806.1,390.9 L806.2,388.0 L806.3,385.2 L806.4,382.4 L806.5,379.5 L806.6,376.7 L806.7,373.9 L806.8,371.1 L806.9,368.2 L807.0,365.4 L807.1,362.6 L807.2,359.7 L807.3,356.9 L807.3,354.1 L807.4,351.3 L807.5,348.4 L807.6,345.6 L807.7,342.8 L807.8,339.9 L807.9,337.1 L807.9,334.3 L808.0,331.5 L808.1,328.6 L808.2,325.8 L808.3,323.0 L808.3,320.1 L808.4,317.3 L808.5,314.5 L808.6,311.7 L808.6,308.8 L808.7,306.0 L808.8,303.2 L808.9,300.3 L808.9,297.5 L809.0,294.7 L809.1,291.9 L809.2,289.0 L809.3,286.2 L809.3,283.4 L809.4,280.5 L809.5,277.7 L809.6,274.9 L809.7,272.1 L809.8,269.2 L809.8,266.4 L809.9,263.6 L810.0,260.7 L810.1,257.9 L810.2,255.1 L810.3,252.3 L810.4,249.4 L810.4,246.6 L810.5,243.8 L810.6,241.0 L810.7,238.1 L810.8,235.3 L810.8,232.5 L810.9,229.6 L811.0,226.8 L811.1,224.0 L811.1,221.2 L811.2,218.3 L811.3,215.5 L811.3,212.7 L811.4,209.8 L811.5,207.0 L811.5,204.2 L811.6,201.4 L811.6,198.5 L811.7,195.7 L811.8,192.9 L811.8,190.0 L811.9,187.2 L811.9,184.4 L812.0,181.5 L812.0,178.7 L812.1,175.9 L812.1,173.1 L812.2,170.2 L812.2,167.4 L812.3,164.6 L812.4,161.7 L812.4,158.9 L812.5,156.1 L812.5,153.3 L812.6,150.4 L812.6,147.6 L812.7,144.8 L812.8,141.9 L812.8,139.1 L812.9,136.3 L812.9,133.5 L813.0,130.6 L813.1,127.8 L813.1,125.0 L813.2,122.1 L813.3,119.3 L813.3,116.5 L813.4,113.7 L813.5,110.8 L813.6,108.0 L813.6,105.2 L813.7,102.3 L813.8,99.5 L813.9,96.7 L814.0,93.9 L814.0,91.0 L814.1,88.2 L814.2,85.4 L814.3,82.5 L814.4,79.7 L814.5,76.9 L814.6,74.0 L814.7,70.8 L814.8,67.2 L814.9,63.4 L815.0,59.7 L815.1,56.2 L815.2,53.1 L815.3,50.6 L815.5,48.9 L815.6,48.1 L815.8,48.7 L816.2,50.8 L816.5,54.0 L816.9,57.7 L817.3,61.3 L817.6,64.4 L817.8,67.3 L818.0,70.1 L818.2,72.9 L818.4,75.7 L818.6,78.5 L818.8,81.4 L819.0,84.2 L819.1,87.0 L819.3,89.8 L819.5,92.7 L819.6,95.5 L819.8,98.3 L819.9,101.1 L820.1,104.0 L820.2,106.8 L820.4,109.6 L820.5,112.5 L820.7,115.3 L820.9,118.1 L821.0,120.9 L821.2,123.8 L821.4,126.6 L821.5,129.4 L821.7,132.2 L821.8,135.1 L822.0,137.9 L822.2,140.7 L822.3,143.5 L822.5,146.4 L822.6,149.2 L822.8,152.0 L823.0,154.8 L823.1,157.6 L823.3,160.5 L823.5,163.3 L823.7,166.1 L823.9,168.9 L824.1,171.8 L824.3,174.6 L824.5,177.4 L824.7,180.2 L824.9,183.1 L825.1,185.9 L825.4,188.7 L825.6,191.5 L825.8,194.3 L826.1,197.2 L826.3,200.0 L826.5,202.8 L826.8,205.6 L827.0,208.4 L827.3,211.2 L827.6,214.1 L827.8,216.9 L828.1,219.7 L828.4,222.5 L828.7,225.3 L829.0,228.1 L829.3,231.0 L829.6,233.8 L829.9,236.6 L830.3,239.4 L830.6,242.2 L831.0,245.0 L831.4,247.8 L831.8,250.6 L832.2,253.4 L832.6,256.2 L833.1,259.0 L833.6,261.8 L834.1,264.6 L834.6,267.3 L835.2,270.1 L835.8,272.9 L836.4,275.6 L837.1,278.4 L837.8,281.1 L838.6,283.9 L839.3,286.6 L840.0,289.3 L840.8,292.0 L841.5,294.8 L842.3,297.5 L843.1,300.2 L843.8,302.9 L844.6,305.7 L845.3,308.4 L846.1,311.1 L846.8,313.9 L847.5,316.6 L848.3,319.3 L849.0,322.1 L849.8,324.8 L850.6,327.5 L851.3,330.2 L852.1,332.9 L852.9,335.7 L853.8,338.4 L854.6,341.1 L855.4,343.8 L856.3,346.5 L857.1,349.2 L858.0,351.9 L858.9,354.5 L859.8,357.2 L860.7,359.9 L861.6,362.6 L862.5,365.3 L863.5,367.9 L864.4,370.6 L865.3,373.3 L866.2,376.0 L867.2,378.6 L868.1,381.3 L869.1,383.9 L870.1,386.6 L871.0,389.3 L872.0,391.9 L873.0,394.6 L874.1,397.2 L875.1,399.8 L876.3,402.4 L877.5,405.0 L878.7,407.5 L880.1,410.0 L881.5,412.5 L883.0,414.9 L884.6,417.2 L886.4,419.4 L888.4,421.5 L890.5,423.3 L892.7,425.0 L895.2,426.5 L897.8,427.6 L900.5,428.2 L903.3,428.7 L906.1,429.1 L909.0,429.5 L911.8,430.0 L914.6,430.4 L917.4,430.9 L920.1,431.3 L924.1,432.4 L928.1,433.5 L932.1,434.7 L936.1,435.9 L940.1,437.2 L944.1,438.6 L948.1,440.0 L952.1,441.2 L956.1,442.6 L960.1,443.8 L964.1,444.9 L968.1,445.7 L972.1,446.5 L976.1,447.1 L980.1,447.6 L984.1,448.0 L988.1,448.3 L992.1,448.6 L996.1,448.8 L1000.1,449.0 L1004.1,449.1 L1008.1,449.2 L1012.1,449.3 L1016.1,449.4 L1020.1,449.4 L1024.2,449.4 L1028.2,449.4 L1032.2,449.3 L1036.2,449.3 L1040.2,449.2 L1044.2,449.2 L1048.2,449.1 L1052.2,449.0 L1056.2,449.0 L1060.2,449.0 L1064.2,449.0 L1068.2,449.0 L1072.2,449.0 L1076.2,449.0 L1080.2,449.1 L1084.2,449.1 L1088.2,449.1 L1092.2,449.2 L1096.2,449.2 L1100.2,449.3 L1104.2,449.3 L1108.2,449.3 L1112.2,449.4 L1116.2,449.4 L1120.2,449.5 L1124.2,449.5 L1128.2,449.5 L1132.2,449.6 L1136.2,449.6 L1140.2,449.6 L1144.2,449.7 L1148.2,449.7 L1152.2,449.7 L1156.2,449.8 L1160.2,449.8 L1164.2,449.8 L1168.2,449.9 L1172.2,449.9 L1176.2,449.9 L1180.2,450.0 L1184.2,450.0 L1188.2,450.0 L1192.2,450.1 L1196.2,450.1 L1200.2,450.1 L1204.2,450.2 L1208.2,450.2 L1212.2,450.2 L1216.2,450.3 L1220.2,450.3 L1224.2,450.3 L1228.2,450.4 L1232.2,450.4 L1236.2,450.4 L1240.2,450.4 L1244.2,450.5 L1248.2,450.5 L1252.2,450.5 L1256.2,450.5 L1260.2,450.6 L1264.2,450.6 L1268.2,450.6 L1272.2,450.6 L1276.2,450.6 L1280.2,450.7 L1284.2,450.7 L1288.2,450.7 L1292.2,450.7 L1296.2,450.7 L1300.2,450.8 L1304.2,450.8 L1308.2,450.8 L1312.2,450.8 L1316.2,450.8 L1320.2,450.8 L1324.2,450.9 L1328.2,450.9 L1332.2,450.9 L1336.2,450.9 L1340.2,450.9 L1344.2,450.9 L1348.2,451.0 L1352.2,451.0 L1356.2,451.0 L1360.2,451.0 L1364.2,451.0 L1368.2,451.0 L1372.2,451.0 L1376.2,451.0 L1380.2,451.1 L1384.2,451.1 L1388.2,451.1 L1392.2,451.1 L1396.2,451.1 L1400.2,451.1" fill="none" stroke="#222" stroke-width="1.0" stroke-linejoin="round" />
<path d="M771.4,452.0 L774.4,452.0 L777.3,451.9 L780.2,451.8 L783.0,451.7 L785.7,451.5 L788.5,451.3 L791.1,451.0 L794.0,450.0 L796.5,448.4 L798.3,446.6 L799.7,444.1 L800.8,441.3 L801.5,438.6 L802.1,435.9 L802.6,433.1 L803.0,430.2 L803.3,427.4 L803.7,424.6 L804.0,421.8 L804.3,419.0 L804.5,416.2 L804.8,413.3 L805.0,410.5 L805.1,407.7 L805.3,404.9 L805.4,402.1 L805.6,399.2 L805.7,396.4 L805.8,393.6 L806.0,390.8 L806.1,387.9 L806.2,385.1 L806.3,382.3 L806.4,379.4 L806.5,376.6 L806.6,373.8 L806.6,371.0 L806.7,368.1 L806.8,365.3 L806.9,362.5 L807.0,359.6 L807.1,356.8 L807.2,354.0 L807.3,351.2 L807.4,348.3 L807.5,345.5 L807.5,342.7 L807.6,339.8 L807.7,337.0 L807.8,334.2 L807.9,331.4 L807.9,328.5 L808.0,325.7 L808.1,322.9 L808.2,320.0 L808.3,317.2 L808.3,314.4 L808.4,311.6 L808.5,308.7 L808.6,305.9 L808.6,303.1 L808.7,300.2 L808.8,297.4 L808.9,294.6 L808.9,291.8 L809.0,288.9 L809.1,286.1 L809.2,283.3 L809.3,280.4 L809.4,277.6 L809.4,274.8 L809.5,272.0 L809.6,269.1 L809.7,266.3 L809.8,263.5 L809.9,260.6 L810.0,257.8 L810.0,255.0 L810.1,252.2 L810.2,249.3 L810.3,246.5 L810.4,243.7 L810.4,240.9 L810.5,238.0 L810.6,235.2 L810.7,232.4 L810.8,229.5 L810.8,226.7 L810.9,223.9 L811.0,221.1 L811.0,218.2 L811.1,215.4 L811.2,212.6 L811.2,209.7 L811.3,206.9 L811.4,204.1 L811.4,201.3 L811.5,198.4 L811.5,195.6 L811.6,192.8 L811.7,189.9 L811.7,187.1 L811.8,184.3 L811.8,181.4 L811.9,178.6 L811.9,175.8 L812.0,173.0 L812.0,170.1 L812.1,167.3 L812.2,164.5 L812.2,161.6 L812.3,158.8 L812.3,156.0 L812.4,153.2 L812.4,150.3 L812.5,147.5 L812.5,144.7 L812.6,141.8 L812.7,139.0 L812.7,136.2 L812.8,133.4 L812.9,130.5 L812.9,127.7 L813.0,124.9 L813.0,122.0 L813.1,119.2 L813.2,116.4 L813.3,113.6 L813.3,110.7 L813.4,107.9 L813.5,105.1 L813.6,102.2 L813.6,99.4 L813.7,96.6 L813.8,93.8 L813.9,90.9 L814.0,88.1 L814.1,85.3 L814.2,82.4 L814.2,79.6 L814.3,76.8 L814.4,73.9 L814.5,70.7 L814.6,67.1 L814.7,63.3 L814.8,59.6 L814.9,56.1 L815.0,53.0 L815.2,50.5 L815.3,48.8 L815.5,48.0 L815.7,48.6 L816.0,50.7 L816.4,53.9 L816.8,57.6 L817.1,61.2 L817.4,64.3 L817.7,67.2 L817.9,70.0 L818.1,72.8 L818.3,75.6 L818.5,78.4 L818.7,81.3 L818.8,84.1 L819.0,86.9 L819.2,89.7 L819.3,92.6 L819.5,95.4 L819.6,98.2 L819.8,101.0 L819.9,103.9 L820.1,106.7 L820.2,109.5 L820.4,112.4 L820.6,115.2 L820.7,118.0 L820.9,120.8 L821.1,123.7 L821.2,126.5 L821.4,129.3 L821.5,132.1 L821.7,135.0 L821.8,137.8 L822.0,140.6 L822.2,143.4 L822.3,146.3 L822.5,149.1 L822.7,151.9 L822.8,154.7 L823.0,157.5 L823.2,160.4 L823.4,163.2 L823.5,166.0 L823.7,168.8 L823.9,171.7 L824.1,174.5 L824.3,177.3 L824.6,180.1 L824.8,183.0 L825.0,185.8 L825.2,188.6 L825.4,191.4 L825.7,194.2 L825.9,197.1 L826.1,199.9 L826.4,202.7 L826.6,205.5 L826.9,208.3 L827.2,211.1 L827.4,214.0 L827.7,216.8 L828.0,219.6 L828.2,222.4 L828.5,225.2 L828.8,228.0 L829.1,230.9 L829.5,233.7 L829.8,236.5 L830.1,239.3 L830.5,242.1 L830.9,244.9 L831.2,247.7 L831.6,250.5 L832.1,253.3 L832.5,256.1 L833.0,258.9 L833.4,261.7 L833.9,264.5 L834.5,267.2 L835.0,270.0 L835.6,272.8 L836.3,275.5 L837.0,278.3 L837.7,281.0 L838.4,283.8 L839.1,286.5 L839.9,289.2 L840.6,291.9 L841.4,294.7 L842.1,297.4 L842.9,300.1 L843.7,302.8 L844.4,305.6 L845.2,308.3 L845.9,311.0 L846.6,313.8 L847.4,316.5 L848.1,319.2 L848.9,322.0 L849.6,324.7 L850.4,327.4 L851.2,330.1 L852.0,332.8 L852.8,335.6 L853.6,338.3 L854.4,341.0 L855.3,343.7 L856.1,346.4 L857.0,349.1 L857.9,351.8 L858.8,354.4 L859.7,357.1 L860.6,359.8 L861.5,362.5 L862.4,365.2 L863.3,367.8 L864.2,370.5 L865.1,373.2 L866.1,375.9 L867.0,378.5 L868.0,381.2 L868.9,383.8 L869.9,386.5 L870.9,389.2 L871.9,391.8 L872.9,394.5 L873.9,397.1 L875.0,399.7 L876.1,402.3 L877.3,404.9 L878.6,407.4 L879.9,409.9 L881.3,412.4 L882.8,414.8 L884.5,417.1 L886.3,419.3 L888.2,421.4 L890.3,423.2 L892.6,424.9 L895.1,426.4 L897.7,427.5 L900.3,428.1 L903.1,428.6 L906.0,429.0 L908.8,429.4 L911.6,429.9 L914.4,430.3 L917.2,430.8 L920.0,431.2 L924.0,432.3 L928.0,433.4 L932.0,434.6 L936.0,435.8 L940.0,437.1 L944.0,438.5 L948.0,439.9 L952.0,441.1 L956.0,442.5 L960.0,443.7 L964.0,444.8 L968.0,445.6 L972.0,446.4 L976.0,447.0 L980.0,447.5 L984.0,447.9 L988.0,448.2 L992.0,448.5 L996.0,448.7 L1000.0,448.9 L1004.0,449.0 L1008.0,449.1 L1012.0,449.2 L1016.0,449.3 L1020.0,449.3 L1024.0,449.3 L1028.0,449.3 L1032.0,449.2 L1036.0,449.2 L1040.0,449.1 L1044.0,449.1 L1048.0,449.0 L1052.0,448.9 L1056.0,448.9 L1060.0,448.9 L1064.0,448.9 L1068.0,448.9 L1072.0,448.9 L1076.0,448.9 L1080.0,449.0 L1084.0,449.0 L1088.0,449.0 L1092.0,449.1 L1096.0,449.1 L1100.0,449.2 L1104.0,449.2 L1108.0,449.2 L1112.0,449.3 L1116.0,449.3 L1120.0,449.4 L1124.0,449.4 L1128.0,449.4 L1132.0,449.5 L1136.0,449.5 L1140.0,449.5 L1144.0,449.6 L1148.0,449.6 L1152.0,449.6 L1156.0,449.7 L1160.0,449.7 L1164.0,449.7 L1168.0,449.8 L1172.0,449.8 L1176.0,449.8 L1180.0,449.9 L1184.0,449.9 L1188.0,449.9 L1192.0,450.0 L1196.0,450.0 L1200.0,450.0 L1204.0,450.1 L1208.0,450.1 L1212.0,450.1 L1216.0,450.2 L1220.0,450.2 L1224.0,450.2 L1228.0,450.3 L1232.0,450.3 L1236.0,450.3 L1240.0,450.3 L1244.0,450.4 L1248.0,450.4 L1252.0,450.4 L1256.0,450.4 L1260.0,450.5 L1264.0,450.5 L1268.0,450.5 L1272.0,450.5 L1276.0,450.5 L1280.0,450.6 L1284.0,450.6 L1288.0,450.6 L1292.0,450.6 L1296.0,450.6 L1300.0,450.7 L1304.0,450.7 L1308.0,450.7 L1312.0,450.7 L1316.0,450.7 L1320.0,450.7 L1324.0,450.8 L1328.0,450.8 L1332.0,450.8 L1336.0,450.8 L1340.0,450.8 L1344.0,450.8 L1348.0,450.9 L1352.0,450.9 L1356.0,450.9 L1360.0,450.9 L1364.0,450.9 L1368.0,450.9 L1372.0,450.9 L1376.0,450.9 L1380.0,451.0 L1384.0,451.0 L1388.0,451.0 L1392.0,451.0 L1396.0,451.0 L1400.0,451.0" fill="none" stroke="#f00000" stroke-width="1.3" stroke-linejoin="round" />
<rect x="771.4" y="16.7" width="638.1" height="445.8" fill="none" stroke="#000" stroke-width="1.8"/>
<line x1="811.2" y1="462.5" x2="811.2" y2="470.7" stroke="#000" stroke-width="1.7"/>
<text transform="translate(811.2,497.8) scale(1,1.09)" font-size="26.5" text-anchor="middle" font-weight="normal" >0</text>
<line x1="861.1" y1="462.5" x2="861.1" y2="466.5" stroke="#000" stroke-width="1.7"/>
<line x1="910.9" y1="462.5" x2="910.9" y2="470.7" stroke="#000" stroke-width="1.7"/>
<text transform="translate(910.9,497.8) scale(1,1.09)" font-size="26.5" text-anchor="middle" font-weight="normal" >1</text>
<line x1="960.8" y1="462.5" x2="960.8" y2="466.5" stroke="#000" stroke-width="1.7"/>
<line x1="1010.6" y1="462.5" x2="1010.6" y2="470.7" stroke="#000" stroke-width="1.7"/>
<text transform="translate(1010.6,497.8) scale(1,1.09)" font-size="26.5" text-anchor="middle" font-weight="normal" >2</text>
<line x1="1060.5" y1="462.5" x2="1060.5" y2="466.5" stroke="#000" stroke-width="1.7"/>
<line x1="1110.3" y1="462.5" x2="1110.3" y2="470.7" stroke="#000" stroke-width="1.7"/>
<text transform="translate(1110.3,497.8) scale(1,1.09)" font-size="26.5" text-anchor="middle" font-weight="normal" >3</text>
<line x1="1160.2" y1="462.5" x2="1160.2" y2="466.5" stroke="#000" stroke-width="1.7"/>
<line x1="1210.0" y1="462.5" x2="1210.0" y2="470.7" stroke="#000" stroke-width="1.7"/>
<text transform="translate(1210.0,497.8) scale(1,1.09)" font-size="26.5" text-anchor="middle" font-weight="normal" >4</text>
<line x1="1259.9" y1="462.5" x2="1259.9" y2="466.5" stroke="#000" stroke-width="1.7"/>
<line x1="1309.7" y1="462.5" x2="1309.7" y2="470.7" stroke="#000" stroke-width="1.7"/>
<text transform="translate(1309.7,497.8) scale(1,1.09)" font-size="26.5" text-anchor="middle" font-weight="normal" >5</text>
<line x1="1359.6" y1="462.5" x2="1359.6" y2="466.5" stroke="#000" stroke-width="1.7"/>
<line x1="1409.4" y1="462.5" x2="1409.4" y2="470.7" stroke="#000" stroke-width="1.7"/>
<text transform="translate(1409.4,497.8) scale(1,1.09)" font-size="26.5" text-anchor="middle" font-weight="normal" >6</text>
<line x1="790.3" y1="16.7" x2="790.3" y2="20.7" stroke="#000" stroke-width="1.7"/>
<line x1="838.0" y1="16.7" x2="838.0" y2="24.9" stroke="#000" stroke-width="1.7"/>
<line x1="885.7" y1="16.7" x2="885.7" y2="20.7" stroke="#000" stroke-width="1.7"/>
<line x1="933.4" y1="16.7" x2="933.4" y2="24.9" stroke="#000" stroke-width="1.7"/>
<line x1="981.1" y1="16.7" x2="981.1" y2="20.7" stroke="#000" stroke-width="1.7"/>
<line x1="1028.8" y1="16.7" x2="1028.8" y2="24.9" stroke="#000" stroke-width="1.7"/>
<line x1="1076.5" y1="16.7" x2="1076.5" y2="20.7" stroke="#000" stroke-width="1.7"/>
<line x1="1124.2" y1="16.7" x2="1124.2" y2="24.9" stroke="#000" stroke-width="1.7"/>
<line x1="1171.9" y1="16.7" x2="1171.9" y2="20.7" stroke="#000" stroke-width="1.7"/>
<line x1="1219.6" y1="16.7" x2="1219.6" y2="24.9" stroke="#000" stroke-width="1.7"/>
<line x1="1267.3" y1="16.7" x2="1267.3" y2="20.7" stroke="#000" stroke-width="1.7"/>
<line x1="1315.0" y1="16.7" x2="1315.0" y2="24.9" stroke="#000" stroke-width="1.7"/>
<line x1="1362.7" y1="16.7" x2="1362.7" y2="20.7" stroke="#000" stroke-width="1.7"/>
<line x1="1409.5" y1="451.7" x2="1417.7" y2="451.7" stroke="#000" stroke-width="1.7"/>
<text transform="translate(1423.6,459.9) scale(1,1.09)" font-size="26.5" text-anchor="start" font-weight="normal" >0</text>
<line x1="1409.5" y1="415.4" x2="1413.5" y2="415.4" stroke="#000" stroke-width="1.7"/>
<line x1="771.4" y1="415.4" x2="775.4" y2="415.4" stroke="#000" stroke-width="1.7"/>
<line x1="1409.5" y1="379.2" x2="1417.7" y2="379.2" stroke="#000" stroke-width="1.7"/>
<line x1="771.4" y1="379.2" x2="779.6" y2="379.2" stroke="#000" stroke-width="1.7"/>
<text transform="translate(1423.6,387.4) scale(1,1.09)" font-size="26.5" text-anchor="start" font-weight="normal" >2000</text>
<line x1="1409.5" y1="342.9" x2="1413.5" y2="342.9" stroke="#000" stroke-width="1.7"/>
<line x1="771.4" y1="342.9" x2="775.4" y2="342.9" stroke="#000" stroke-width="1.7"/>
<line x1="1409.5" y1="306.7" x2="1417.7" y2="306.7" stroke="#000" stroke-width="1.7"/>
<line x1="771.4" y1="306.7" x2="779.6" y2="306.7" stroke="#000" stroke-width="1.7"/>
<text transform="translate(1423.6,314.9) scale(1,1.09)" font-size="26.5" text-anchor="start" font-weight="normal" >4000</text>
<line x1="1409.5" y1="270.4" x2="1413.5" y2="270.4" stroke="#000" stroke-width="1.7"/>
<line x1="771.4" y1="270.4" x2="775.4" y2="270.4" stroke="#000" stroke-width="1.7"/>
<line x1="1409.5" y1="234.2" x2="1417.7" y2="234.2" stroke="#000" stroke-width="1.7"/>
<line x1="771.4" y1="234.2" x2="779.6" y2="234.2" stroke="#000" stroke-width="1.7"/>
<text transform="translate(1423.6,242.4) scale(1,1.09)" font-size="26.5" text-anchor="start" font-weight="normal" >6000</text>
<line x1="1409.5" y1="197.9" x2="1413.5" y2="197.9" stroke="#000" stroke-width="1.7"/>
<line x1="771.4" y1="197.9" x2="775.4" y2="197.9" stroke="#000" stroke-width="1.7"/>
<line x1="1409.5" y1="161.7" x2="1417.7" y2="161.7" stroke="#000" stroke-width="1.7"/>
<line x1="771.4" y1="161.7" x2="779.6" y2="161.7" stroke="#000" stroke-width="1.7"/>
<text transform="translate(1423.6,169.9) scale(1,1.09)" font-size="26.5" text-anchor="start" font-weight="normal" >8000</text>
<line x1="1409.5" y1="125.4" x2="1413.5" y2="125.4" stroke="#000" stroke-width="1.7"/>
<line x1="771.4" y1="125.4" x2="775.4" y2="125.4" stroke="#000" stroke-width="1.7"/>
<line x1="1409.5" y1="89.2" x2="1417.7" y2="89.2" stroke="#000" stroke-width="1.7"/>
<line x1="771.4" y1="89.2" x2="779.6" y2="89.2" stroke="#000" stroke-width="1.7"/>
<text transform="translate(1423.6,97.4) scale(1,1.09)" font-size="26.5" text-anchor="start" font-weight="normal" >10000</text>
<line x1="1409.5" y1="52.9" x2="1413.5" y2="52.9" stroke="#000" stroke-width="1.7"/>
<line x1="771.4" y1="52.9" x2="775.4" y2="52.9" stroke="#000" stroke-width="1.7"/>
<line x1="1409.5" y1="16.7" x2="1417.7" y2="16.7" stroke="#000" stroke-width="1.7"/>
<text transform="translate(1423.6,24.9) scale(1,1.09)" font-size="26.5" text-anchor="start" font-weight="normal" >12000</text>
<rect x="1086.1" y="31.3" width="307.9" height="63.0" fill="#fff" stroke="#333" stroke-width="1.1"/>
<line x1="1086.1" y1="46.5" x2="1146.1" y2="46.5" stroke="#555" stroke-width="1.1"/>
<line x1="1086.1" y1="79.3" x2="1146.1" y2="79.3" stroke="#f00000" stroke-width="1.2"/>
<text x="1153.0" y="55.7" font-size="26.85" text-anchor="start" font-weight="normal" >109 u</text>
<text x="1153.0" y="88.2" font-size="26.85" text-anchor="start" font-weight="normal" >Cumulative Fit Peak</text>
<text transform="translate(832.6,62.3) scale(1,1.04)" font-size="41" font-weight="bold" class="b">B</text>
<text x="959.3" y="547.0" font-size="32.0" text-anchor="start" font-weight="normal" class="lab">Electron energy (eV)</text>
</g>
<g id="panelC">
<path d="M103.2,974.9 L120.0,974.6 L130.0,974.0 L136.0,973.6 L138.4,968.0 L140.0,961.0 L141.8,953.4 L142.1,950.8 L142.2,948.3 L142.4,945.7 L142.5,943.0 L142.6,940.4 L142.7,937.8 L142.8,935.2 L142.9,932.6 L143.0,930.0 L143.1,927.4 L143.2,924.8 L143.2,922.2 L143.3,919.6 L143.4,917.0 L143.5,914.4 L143.6,911.8 L143.6,909.2 L143.7,906.6 L143.8,903.9 L143.9,901.3 L144.0,898.7 L144.1,896.1 L144.2,893.5 L144.3,890.9 L144.4,888.3 L144.5,885.7 L144.6,883.1 L144.7,880.5 L144.7,877.9 L144.8,875.3 L144.9,872.7 L145.0,870.1 L145.0,867.5 L145.1,864.9 L145.2,862.3 L145.2,859.6 L145.2,857.0 L145.3,854.4 L145.3,851.8 L145.4,849.2 L145.4,846.6 L145.4,844.0 L145.4,841.4 L145.5,838.8 L145.5,836.2 L145.5,833.6 L145.6,831.0 L145.6,828.4 L145.6,825.8 L145.6,823.1 L145.7,820.5 L145.7,817.9 L145.7,815.3 L145.8,812.7 L145.8,810.1 L145.8,807.5 L145.8,804.9 L145.9,802.3 L145.9,799.7 L145.9,797.1 L146.0,794.5 L146.0,791.9 L146.0,789.3 L146.1,786.6 L146.1,784.0 L146.1,781.4 L146.2,778.8 L146.2,776.2 L146.2,773.6 L146.3,771.0 L146.3,768.4 L146.3,765.8 L146.4,763.2 L146.4,760.6 L146.5,758.0 L146.5,755.4 L146.5,752.8 L146.6,750.1 L146.6,747.5 L146.6,744.9 L146.7,742.3 L146.7,739.7 L146.8,737.1 L146.8,734.5 L146.9,731.9 L146.9,729.3 L146.9,726.7 L147.0,724.1 L147.0,721.5 L147.1,718.9 L147.1,716.3 L147.2,713.7 L147.2,711.0 L147.3,708.4 L147.3,705.8 L147.4,703.2 L147.4,700.6 L147.5,698.0 L147.5,695.4 L147.6,692.8 L147.6,690.2 L147.7,687.6 L147.8,685.0 L147.8,682.4 L147.9,679.8 L147.9,677.2 L148.0,674.5 L148.0,671.9 L148.1,669.3 L148.1,666.7 L148.2,664.1 L148.2,661.5 L148.3,658.9 L148.3,656.3 L148.4,653.7 L148.4,651.0 L148.4,648.4 L148.5,645.8 L148.5,643.2 L148.6,640.6 L148.6,638.0 L148.7,635.3 L148.7,632.7 L148.8,630.1 L148.8,627.5 L148.9,624.9 L149.0,622.3 L149.1,619.7 L149.2,617.1 L149.3,614.6 L149.4,612.0 L149.7,609.2 L150.2,605.9 L151.0,602.7 L151.8,600.0 L152.1,594.4 L152.7,612.0 L153.3,618.6 L153.4,622.0 L153.5,625.3 L153.6,628.4 L153.7,631.0 L153.8,633.6 L153.9,636.2 L154.1,638.8 L154.2,641.5 L154.3,644.1 L154.4,646.7 L154.6,649.3 L154.7,651.9 L154.8,654.5 L154.9,657.1 L155.1,659.7 L155.2,662.3 L155.3,664.9 L155.4,667.5 L155.6,670.1 L155.7,672.7 L155.8,675.3 L156.0,677.9 L156.1,680.5 L156.2,683.1 L156.3,685.7 L156.4,688.3 L156.6,690.9 L156.7,693.5 L156.8,696.1 L156.9,698.7 L157.1,701.4 L157.2,704.0 L157.3,706.6 L157.4,709.2 L157.5,711.8 L157.7,714.4 L157.8,717.0 L157.9,719.6 L158.0,722.2 L158.1,724.8 L158.3,727.4 L158.4,730.0 L158.5,732.6 L158.7,735.2 L158.8,737.8 L158.9,740.4 L159.1,743.0 L159.2,745.6 L159.3,748.2 L159.5,750.8 L159.6,753.4 L159.8,756.0 L159.9,758.6 L160.0,761.2 L160.2,763.8 L160.3,766.5 L160.5,769.1 L160.6,771.7 L160.7,774.3 L160.9,776.9 L161.0,779.5 L161.2,782.1 L161.3,784.7 L161.4,787.3 L161.6,789.9 L161.7,792.5 L161.8,795.1 L162.0,797.7 L162.1,800.3 L162.2,802.9 L162.4,805.5 L162.5,808.1 L162.7,810.7 L162.8,813.3 L162.9,815.9 L163.1,818.5 L163.2,821.1 L163.3,823.7 L163.5,826.3 L163.6,828.9 L163.7,831.5 L163.9,834.2 L164.0,836.8 L164.1,839.4 L164.3,842.0 L164.4,844.6 L164.6,847.2 L164.4,851.0 L166.0,871.0 L167.6,860.0 L170.0,881.0 L171.6,894.0 L173.6,879.0 L175.6,895.0 L178.0,911.0 L180.0,920.0 L182.4,915.0 L184.4,914.0 L186.4,921.0 L188.0,933.0 L189.6,928.0 L191.0,936.0 L193.0,942.0 L195.0,943.0 L197.0,949.0 L199.0,944.0 L201.6,943.4 L203.6,964.0 L206.0,958.0 L208.0,961.0 L210.0,957.0 L212.0,960.6 L215.6,955.0 L218.0,960.0 L222.0,964.0 L225.0,961.0 L228.0,957.0 L233.0,956.0 L236.0,959.0 L239.0,958.0 L242.0,963.0 L245.0,956.0 L249.0,958.0 L252.0,961.0 L256.0,959.0 L259.6,964.0 L263.0,956.4 L268.0,968.0 L270.0,961.0 L278.0,968.6 L280.0,965.0 L283.0,959.0 L286.0,966.0 L289.0,969.0 L292.0,962.0 L295.0,968.0 L299.8,966.0 L302.5,965.8 L305.0,966.2 L307.5,965.1 L310.0,966.2 L312.5,969.1 L315.0,965.4 L317.5,963.6 L320.0,958.8 L322.5,963.5 L325.0,957.2 L327.5,958.1 L330.0,963.3 L332.5,962.4 L335.0,959.8 L337.5,955.5 L340.0,958.5 L342.5,957.3 L345.0,960.3 L347.5,964.0 L350.0,958.6 L352.5,955.8 L355.0,954.5 L357.5,957.1 L360.0,956.6 L362.5,953.9 L365.0,956.9 L367.5,953.6 L370.0,959.1 L372.5,958.8 L375.0,958.8 L377.5,954.8 L380.0,957.3 L382.5,955.7 L385.0,955.2 L387.5,955.5 L390.0,953.2 L392.5,953.1 L395.0,958.9 L397.5,956.7 L400.0,957.9 L402.5,960.1 L405.0,953.5 L407.5,956.1 L410.0,958.7 L412.5,959.5 L415.0,957.9 L417.5,961.7 L420.0,959.9 L422.5,956.7 L425.0,957.7 L427.5,962.4 L430.0,962.0 L432.5,956.5 L435.0,965.0 L437.5,963.5 L440.0,965.8 L442.5,961.8 L445.0,962.5 L447.5,960.8 L450.0,970.4 L452.5,964.0 L455.0,968.8 L457.5,963.6 L460.0,966.0 L462.5,961.8 L465.0,965.3 L467.5,969.1 L470.0,963.8 L472.5,969.9 L475.0,968.3 L477.5,965.2 L480.0,967.0 L482.5,967.3 L485.0,968.3 L487.5,967.6 L490.0,967.2 L492.5,968.4 L495.0,967.2 L497.5,966.8 L500.0,969.3 L502.5,971.2 L505.0,966.7 L507.5,969.8 L510.0,968.6 L512.5,968.1 L515.0,971.7 L517.5,969.1 L520.0,973.0 L522.5,968.8 L525.0,971.1 L527.5,970.0 L530.0,969.0 L532.5,971.6 L535.0,970.2 L537.5,971.7 L540.0,970.5 L542.5,968.6 L545.0,970.4 L547.5,970.8 L550.0,972.5 L552.5,969.0 L555.0,970.6 L557.5,967.4 L560.0,971.9 L562.5,968.7 L565.0,967.3 L567.5,970.6 L570.0,972.8 L572.5,967.9 L575.0,968.7 L577.5,969.4 L580.0,968.7 L582.5,971.5 L585.0,969.3 L587.5,969.5 L590.0,972.0 L592.5,969.5 L595.0,971.7 L597.5,969.1 L600.0,968.7 L602.5,967.5 L605.0,974.6 L607.5,970.4 L610.0,971.5 L612.5,971.0 L615.0,971.4 L617.5,971.3 L620.0,974.8 L622.5,969.3 L625.0,968.3 L627.5,969.4 L630.0,968.8 L632.5,972.8 L635.0,973.0 L637.5,969.7 L640.0,968.9 L642.5,970.9 L645.0,974.3 L647.5,966.4 L650.0,972.8 L652.5,969.8 L655.0,973.9 L657.5,969.9 L660.0,971.4 L662.5,969.2 L665.0,970.2 L667.5,974.8 L670.0,973.8 L672.5,971.5 L675.0,970.7 L677.5,968.8 L680.0,971.7 L682.5,972.4 L685.0,972.3 L687.5,972.4 L690.0,970.4 L692.5,972.5 L695.0,972.6 L697.5,975.2 L700.0,976.3 L702.5,972.5 L705.0,971.4 L707.5,972.8 L710.0,971.8 L712.5,971.5 L715.0,972.9 L717.5,971.1 L720.0,974.2 L722.5,972.9 L725.0,973.6 L727.5,972.8 L730.0,971.9 L732.5,971.5 L735.0,972.9 L737.5,972.3 L740.0,973.8" fill="none" stroke="#222" stroke-width="1.0" stroke-linejoin="round" />
<path d="M103.2,974.8 L105.8,974.8 L108.4,974.8 L111.0,974.7 L113.7,974.6 L116.3,974.6 L118.9,974.5 L121.4,974.3 L124.0,974.2 L126.6,973.9 L129.2,973.4 L131.8,972.9 L134.3,972.0 L136.4,970.7 L138.1,968.6 L139.1,966.2 L139.8,963.7 L140.4,961.1 L140.9,958.6 L141.4,956.0 L141.9,953.4 L142.2,950.8 L142.3,948.3 L142.5,945.7 L142.6,943.0 L142.7,940.4 L142.8,937.8 L142.9,935.2 L143.0,932.6 L143.1,930.0 L143.2,927.4 L143.3,924.8 L143.3,922.2 L143.4,919.6 L143.5,917.0 L143.6,914.4 L143.7,911.8 L143.7,909.2 L143.8,906.6 L143.9,903.9 L144.0,901.3 L144.1,898.7 L144.2,896.1 L144.3,893.5 L144.4,890.9 L144.5,888.3 L144.6,885.7 L144.7,883.1 L144.8,880.5 L144.8,877.9 L144.9,875.3 L145.0,872.7 L145.1,870.1 L145.1,867.5 L145.2,864.9 L145.3,862.3 L145.3,859.6 L145.3,857.0 L145.4,854.4 L145.4,851.8 L145.5,849.2 L145.5,846.6 L145.5,844.0 L145.5,841.4 L145.6,838.8 L145.6,836.2 L145.6,833.6 L145.7,831.0 L145.7,828.4 L145.7,825.8 L145.7,823.1 L145.8,820.5 L145.8,817.9 L145.8,815.3 L145.9,812.7 L145.9,810.1 L145.9,807.5 L145.9,804.9 L146.0,802.3 L146.0,799.7 L146.0,797.1 L146.1,794.5 L146.1,791.9 L146.1,789.3 L146.2,786.6 L146.2,784.0 L146.2,781.4 L146.3,778.8 L146.3,776.2 L146.3,773.6 L146.4,771.0 L146.4,768.4 L146.4,765.8 L146.5,763.2 L146.5,760.6 L146.6,758.0 L146.6,755.4 L146.6,752.8 L146.7,750.1 L146.7,747.5 L146.7,744.9 L146.8,742.3 L146.8,739.7 L146.9,737.1 L146.9,734.5 L147.0,731.9 L147.0,729.3 L147.0,726.7 L147.1,724.1 L147.1,721.5 L147.2,718.9 L147.2,716.3 L147.3,713.7 L147.3,711.0 L147.4,708.4 L147.4,705.8 L147.5,703.2 L147.5,700.6 L147.6,698.0 L147.6,695.4 L147.7,692.8 L147.7,690.2 L147.8,687.6 L147.9,685.0 L147.9,682.4 L148.0,679.8 L148.0,677.2 L148.1,674.5 L148.1,671.9 L148.2,669.3 L148.2,666.7 L148.3,664.1 L148.3,661.5 L148.4,658.9 L148.4,656.3 L148.5,653.7 L148.5,651.0 L148.5,648.4 L148.6,645.8 L148.6,643.2 L148.7,640.6 L148.7,638.0 L148.8,635.3 L148.8,632.7 L148.9,630.1 L148.9,627.5 L149.0,624.9 L149.1,622.3 L149.2,619.7 L149.3,617.1 L149.4,614.6 L149.5,612.0 L149.8,609.2 L150.3,605.9 L151.1,602.7 L151.7,600.3 L152.1,599.5 L152.3,600.0 L152.5,601.3 L152.6,603.2 L152.7,605.7 L152.8,608.6 L152.9,611.8 L153.0,615.1 L153.1,618.6 L153.1,622.0 L153.2,625.3 L153.3,628.4 L153.4,631.0 L153.6,633.6 L153.7,636.2 L153.8,638.8 L153.9,641.5 L154.1,644.1 L154.2,646.7 L154.3,649.3 L154.4,651.9 L154.6,654.5 L154.7,657.1 L154.8,659.7 L154.9,662.3 L155.1,664.9 L155.2,667.5 L155.3,670.1 L155.5,672.7 L155.6,675.3 L155.7,677.9 L155.8,680.5 L156.0,683.1 L156.1,685.7 L156.2,688.3 L156.3,690.9 L156.4,693.5 L156.6,696.1 L156.7,698.7 L156.8,701.4 L156.9,704.0 L157.0,706.6 L157.2,709.2 L157.3,711.8 L157.4,714.4 L157.5,717.0 L157.7,719.6 L157.8,722.2 L157.9,724.8 L158.0,727.4 L158.2,730.0 L158.3,732.6 L158.4,735.2 L158.5,737.8 L158.7,740.4 L158.8,743.0 L158.9,745.6 L159.1,748.2 L159.2,750.8 L159.4,753.4 L159.5,756.0 L159.6,758.6 L159.8,761.2 L159.9,763.8 L160.1,766.5 L160.2,769.1 L160.4,771.7 L160.5,774.3 L160.6,776.9 L160.8,779.5 L160.9,782.1 L161.0,784.7 L161.2,787.3 L161.3,789.9 L161.5,792.5 L161.6,795.1 L161.7,797.7 L161.9,800.3 L162.0,802.9 L162.1,805.5 L162.3,808.1 L162.4,810.7 L162.5,813.3 L162.7,815.9 L162.8,818.5 L163.0,821.1 L163.1,823.7 L163.2,826.3 L163.4,828.9 L163.5,831.5 L163.6,834.2 L163.7,836.8 L163.9,839.4 L164.0,842.0 L164.2,844.6 L164.3,847.2 L164.5,849.8 L164.7,852.4 L164.9,855.0 L165.2,857.6 L165.4,860.2 L165.7,862.7 L166.0,865.3 L166.4,867.9 L166.7,870.5 L167.1,873.1 L167.5,875.7 L168.0,878.3 L168.5,880.8 L169.1,883.3 L169.7,885.9 L170.5,888.4 L171.5,890.8 L172.6,893.1 L174.1,895.3 L175.6,897.4 L176.9,899.6 L178.1,902.0 L179.2,904.3 L180.3,906.7 L181.3,909.1 L182.3,911.5 L183.2,914.0 L184.1,916.4 L185.0,918.9 L185.8,921.3 L186.6,923.8 L187.4,926.3 L188.3,928.8 L189.1,931.2 L190.0,933.7 L190.9,936.1 L191.8,938.6 L192.8,941.0 L193.8,943.4 L194.9,945.8 L196.1,948.1 L197.4,950.4 L198.8,952.6 L200.5,954.5 L202.6,956.2 L204.8,957.3 L207.3,958.1 L210.0,958.4 L212.5,958.4 L215.0,958.3 L217.5,958.3 L220.0,958.2 L222.5,958.1 L225.0,957.9 L227.5,957.7 L230.0,957.6 L232.5,957.7 L235.0,957.9 L237.5,958.1 L240.0,958.4 L242.5,958.7 L245.0,959.1 L247.5,959.5 L250.0,960.0 L252.5,960.5 L255.0,961.2 L257.5,961.8 L260.0,962.4 L262.5,963.0 L265.0,963.5 L267.5,964.0 L270.0,964.4 L272.5,964.7 L275.0,965.0 L277.5,965.2 L280.0,965.4 L282.5,965.6 L285.0,965.7 L287.5,965.9 L290.0,966.0 L292.5,966.0 L295.0,966.0 L297.5,966.0 L300.0,966.0 L302.5,965.9 L305.0,965.7 L307.5,965.3 L310.0,964.9 L312.5,964.4 L315.0,963.9 L317.5,963.4 L320.0,963.0 L322.5,962.6 L325.0,962.1 L327.5,961.6 L330.0,961.2 L332.5,960.7 L335.0,960.2 L337.5,959.8 L340.0,959.4 L342.5,959.0 L345.0,958.7 L347.5,958.3 L350.0,958.0 L352.5,957.7 L355.0,957.4 L357.5,957.2 L360.0,957.0 L362.5,956.8 L365.0,956.6 L367.5,956.5 L370.0,956.3 L372.5,956.2 L375.0,956.1 L377.5,956.0 L380.0,956.0 L382.5,956.0 L385.0,956.1 L387.5,956.3 L390.0,956.5 L392.5,956.7 L395.0,956.9 L397.5,957.2 L400.0,957.4 L402.5,957.6 L405.0,957.8 L407.5,958.1 L410.0,958.3 L412.5,958.6 L415.0,958.8 L417.5,959.1 L420.0,959.4 L422.5,959.7 L425.0,960.1 L427.5,960.4 L430.0,960.8 L432.5,961.2 L435.0,961.6 L437.5,962.0 L440.0,962.4 L442.5,962.8 L445.0,963.2 L447.5,963.6 L450.0,964.0 L452.5,964.5 L455.0,964.9 L457.5,965.2 L460.0,965.6 L462.5,965.9 L465.0,966.3 L467.5,966.6 L470.0,966.9 L472.5,967.2 L475.0,967.5 L477.5,967.8 L480.0,968.0 L482.5,968.2 L485.0,968.4 L487.5,968.6 L490.0,968.8 L492.5,969.0 L495.0,969.1 L497.5,969.3 L500.0,969.4 L502.5,969.5 L505.0,969.6 L507.5,969.8 L510.0,969.9 L512.5,970.0 L515.0,970.0 L517.5,970.1 L520.0,970.2 L522.5,970.3 L525.0,970.3 L527.5,970.4 L530.0,970.4 L532.5,970.5 L535.0,970.5 L537.5,970.6 L540.0,970.6 L542.5,970.6 L545.0,970.6 L547.5,970.7 L550.0,970.7 L552.5,970.7 L555.0,970.7 L557.5,970.7 L560.0,970.7 L562.5,970.7 L565.0,970.7 L567.5,970.7 L570.0,970.7 L572.5,970.8 L575.0,970.8 L577.5,970.8 L580.0,970.8 L582.5,970.8 L585.0,970.8 L587.5,970.9 L590.0,970.9 L592.5,970.9 L595.0,970.9 L597.5,970.9 L600.0,971.0 L602.5,971.0 L605.0,971.0 L607.5,971.0 L610.0,971.1 L612.5,971.1 L615.0,971.1 L617.5,971.2 L620.0,971.2 L622.5,971.2 L625.0,971.3 L627.5,971.3 L630.0,971.4 L632.5,971.4 L635.0,971.4 L637.5,971.5 L640.0,971.5 L642.5,971.6 L645.0,971.7 L647.5,971.7 L650.0,971.8 L652.5,971.8 L655.0,971.9 L657.5,971.9 L660.0,972.0 L662.5,972.0 L665.0,972.1 L667.5,972.2 L670.0,972.2 L672.5,972.3 L675.0,972.3 L677.5,972.4 L680.0,972.4 L682.5,972.4 L685.0,972.5 L687.5,972.5 L690.0,972.6 L692.5,972.6 L695.0,972.7 L697.5,972.7 L700.0,972.8 L702.5,972.8 L705.0,972.8 L707.5,972.9 L710.0,972.9 L712.5,973.0 L715.0,973.0 L717.5,973.0 L720.0,973.1 L722.5,973.1 L725.0,973.2 L727.5,973.2 L730.0,973.2 L732.5,973.3 L735.0,973.3 L737.5,973.3 L740.0,973.4" fill="none" stroke="#f00000" stroke-width="1.3" stroke-linejoin="round" />
<rect x="103.2" y="538.3" width="638.1999999999999" height="444.70000000000005" fill="none" stroke="#000" stroke-width="1.8"/>
<line x1="142.9" y1="983.0" x2="142.9" y2="991.2" stroke="#000" stroke-width="1.7"/>
<text transform="translate(142.9,1019.3) scale(1,1.09)" font-size="26.5" text-anchor="middle" font-weight="normal" >0</text>
<line x1="192.8" y1="983.0" x2="192.8" y2="987.0" stroke="#000" stroke-width="1.7"/>
<line x1="242.7" y1="983.0" x2="242.7" y2="991.2" stroke="#000" stroke-width="1.7"/>
<text transform="translate(242.7,1019.3) scale(1,1.09)" font-size="26.5" text-anchor="middle" font-weight="normal" >1</text>
<line x1="292.5" y1="983.0" x2="292.5" y2="987.0" stroke="#000" stroke-width="1.7"/>
<line x1="342.4" y1="983.0" x2="342.4" y2="991.2" stroke="#000" stroke-width="1.7"/>
<text transform="translate(342.4,1019.3) scale(1,1.09)" font-size="26.5" text-anchor="middle" font-weight="normal" >2</text>
<line x1="392.3" y1="983.0" x2="392.3" y2="987.0" stroke="#000" stroke-width="1.7"/>
<line x1="442.1" y1="983.0" x2="442.1" y2="991.2" stroke="#000" stroke-width="1.7"/>
<text transform="translate(442.1,1019.3) scale(1,1.09)" font-size="26.5" text-anchor="middle" font-weight="normal" >3</text>
<line x1="492.0" y1="983.0" x2="492.0" y2="987.0" stroke="#000" stroke-width="1.7"/>
<line x1="541.9" y1="983.0" x2="541.9" y2="991.2" stroke="#000" stroke-width="1.7"/>
<text transform="translate(541.9,1019.3) scale(1,1.09)" font-size="26.5" text-anchor="middle" font-weight="normal" >4</text>
<line x1="591.8" y1="983.0" x2="591.8" y2="987.0" stroke="#000" stroke-width="1.7"/>
<line x1="641.6" y1="983.0" x2="641.6" y2="991.2" stroke="#000" stroke-width="1.7"/>
<text transform="translate(641.6,1019.3) scale(1,1.09)" font-size="26.5" text-anchor="middle" font-weight="normal" >5</text>
<line x1="691.5" y1="983.0" x2="691.5" y2="987.0" stroke="#000" stroke-width="1.7"/>
<line x1="741.4" y1="983.0" x2="741.4" y2="991.2" stroke="#000" stroke-width="1.7"/>
<text transform="translate(741.4,1019.3) scale(1,1.09)" font-size="26.5" text-anchor="middle" font-weight="normal" >6</text>
<line x1="153.4" y1="538.3" x2="153.4" y2="546.5" stroke="#000" stroke-width="1.7"/>
<line x1="237.4" y1="538.3" x2="237.4" y2="542.3" stroke="#000" stroke-width="1.7"/>
<line x1="321.4" y1="538.3" x2="321.4" y2="546.5" stroke="#000" stroke-width="1.7"/>
<line x1="405.4" y1="538.3" x2="405.4" y2="542.3" stroke="#000" stroke-width="1.7"/>
<line x1="489.4" y1="538.3" x2="489.4" y2="546.5" stroke="#000" stroke-width="1.7"/>
<line x1="573.4" y1="538.3" x2="573.4" y2="542.3" stroke="#000" stroke-width="1.7"/>
<line x1="657.4" y1="538.3" x2="657.4" y2="546.5" stroke="#000" stroke-width="1.7"/>
<line x1="95.0" y1="974.6" x2="103.2" y2="974.6" stroke="#000" stroke-width="1.7"/>
<line x1="733.2" y1="974.6" x2="741.4" y2="974.6" stroke="#000" stroke-width="1.7"/>
<text transform="translate(88.5,982.9) scale(1,1.09)" font-size="26.5" text-anchor="end" font-weight="normal" >0</text>
<line x1="99.2" y1="930.9" x2="103.2" y2="930.9" stroke="#000" stroke-width="1.7"/>
<line x1="737.4" y1="930.9" x2="741.4" y2="930.9" stroke="#000" stroke-width="1.7"/>
<line x1="95.0" y1="887.2" x2="103.2" y2="887.2" stroke="#000" stroke-width="1.7"/>
<line x1="733.2" y1="887.2" x2="741.4" y2="887.2" stroke="#000" stroke-width="1.7"/>
<text transform="translate(88.5,895.5) scale(1,1.09)" font-size="26.5" text-anchor="end" font-weight="normal" >10</text>
<line x1="99.2" y1="843.5" x2="103.2" y2="843.5" stroke="#000" stroke-width="1.7"/>
<line x1="737.4" y1="843.5" x2="741.4" y2="843.5" stroke="#000" stroke-width="1.7"/>
<line x1="95.0" y1="799.8" x2="103.2" y2="799.8" stroke="#000" stroke-width="1.7"/>
<line x1="733.2" y1="799.8" x2="741.4" y2="799.8" stroke="#000" stroke-width="1.7"/>
<text transform="translate(88.5,808.0) scale(1,1.09)" font-size="26.5" text-anchor="end" font-weight="normal" >20</text>
<line x1="99.2" y1="756.1" x2="103.2" y2="756.1" stroke="#000" stroke-width="1.7"/>
<line x1="737.4" y1="756.1" x2="741.4" y2="756.1" stroke="#000" stroke-width="1.7"/>
<line x1="95.0" y1="712.5" x2="103.2" y2="712.5" stroke="#000" stroke-width="1.7"/>
<line x1="733.2" y1="712.5" x2="741.4" y2="712.5" stroke="#000" stroke-width="1.7"/>
<text transform="translate(88.5,720.7) scale(1,1.09)" font-size="26.5" text-anchor="end" font-weight="normal" >30</text>
<line x1="99.2" y1="668.8" x2="103.2" y2="668.8" stroke="#000" stroke-width="1.7"/>
<line x1="737.4" y1="668.8" x2="741.4" y2="668.8" stroke="#000" stroke-width="1.7"/>
<line x1="95.0" y1="625.0" x2="103.2" y2="625.0" stroke="#000" stroke-width="1.7"/>
<line x1="733.2" y1="625.0" x2="741.4" y2="625.0" stroke="#000" stroke-width="1.7"/>
<text transform="translate(88.5,633.2) scale(1,1.09)" font-size="26.5" text-anchor="end" font-weight="normal" >40</text>
<line x1="99.2" y1="581.3" x2="103.2" y2="581.3" stroke="#000" stroke-width="1.7"/>
<line x1="737.4" y1="581.3" x2="741.4" y2="581.3" stroke="#000" stroke-width="1.7"/>
<line x1="95.0" y1="537.6" x2="103.2" y2="537.6" stroke="#000" stroke-width="1.7"/>
<text transform="translate(88.5,545.9) scale(1,1.09)" font-size="26.5" text-anchor="end" font-weight="normal" >50</text>
<rect x="412.6" y="555.5" width="308.0" height="63.1" fill="#fff" stroke="#333" stroke-width="1.1"/>
<line x1="412.6" y1="570.8" x2="472.9" y2="570.8" stroke="#555" stroke-width="1.1"/>
<line x1="412.6" y1="603.6" x2="472.9" y2="603.6" stroke="#f00000" stroke-width="1.2"/>
<text x="479.8" y="580.0" font-size="26.85" text-anchor="start" font-weight="normal" >91 u</text>
<text x="479.8" y="612.4" font-size="26.85" text-anchor="start" font-weight="normal" >Cumulative Fit Peak</text>
<text transform="translate(118.6,585.8) scale(1,1.095)" font-size="40" font-weight="bold" class="b">C</text>
<text x="263.7" y="1053.6" font-size="32.0" text-anchor="start" font-weight="normal" class="lab">Electron energy (eV)</text>
<text transform="translate(35,764.8) rotate(-90)" font-size="32.0" text-anchor="middle" class="lab">Ion yield (Hz)</text>
</g>
</svg>
</body></html>
